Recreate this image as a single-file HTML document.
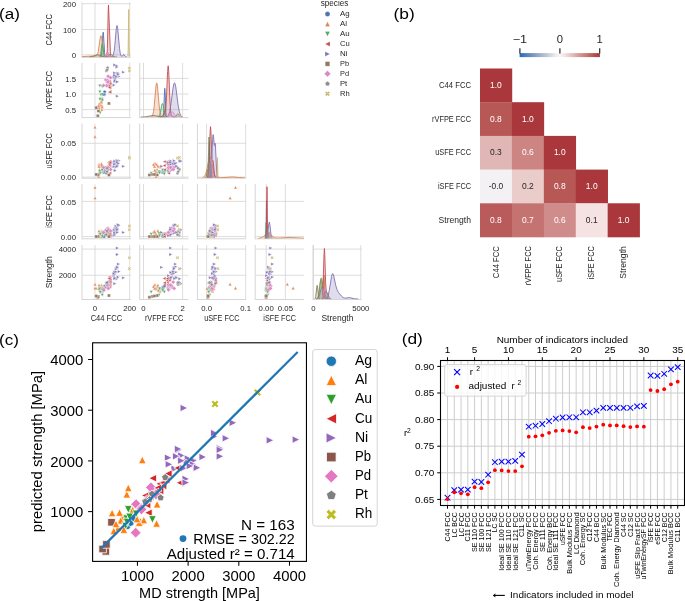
<!DOCTYPE html>
<html><head><meta charset="utf-8"><style>
html,body{margin:0;padding:0;background:#fff;width:685px;height:601px;overflow:hidden}
svg{display:block;font-family:"Liberation Sans", sans-serif;will-change:transform}
</style></head><body>
<svg width="685" height="601" viewBox="0 0 685 601">
<rect width="685" height="601" fill="#fff"/>
<g id="panel-a">
<text x="-1.00" y="18.70" font-size="14.56" text-anchor="start" fill="#000" textLength="20.87" lengthAdjust="spacingAndGlyphs">(a)</text>
<defs>
<clipPath id="ca00"><rect x="82.0" y="2.2" width="48.8" height="55.199999999999996"/></clipPath>
<clipPath id="ca10"><rect x="82.0" y="62.9" width="48.8" height="54.699999999999996"/></clipPath>
<clipPath id="ca11"><rect x="139.7" y="62.9" width="48.8" height="54.699999999999996"/></clipPath>
<clipPath id="ca20"><rect x="82.0" y="123.6" width="48.8" height="54.599999999999994"/></clipPath>
<clipPath id="ca21"><rect x="139.7" y="123.6" width="48.8" height="54.599999999999994"/></clipPath>
<clipPath id="ca22"><rect x="197.4" y="123.6" width="48.8" height="54.599999999999994"/></clipPath>
<clipPath id="ca30"><rect x="82.0" y="184.1" width="48.8" height="54.70000000000002"/></clipPath>
<clipPath id="ca31"><rect x="139.7" y="184.1" width="48.8" height="54.70000000000002"/></clipPath>
<clipPath id="ca32"><rect x="197.4" y="184.1" width="48.8" height="54.70000000000002"/></clipPath>
<clipPath id="ca33"><rect x="255.2" y="184.1" width="48.8" height="54.70000000000002"/></clipPath>
<clipPath id="ca40"><rect x="82.0" y="245.0" width="48.8" height="54.5"/></clipPath>
<clipPath id="ca41"><rect x="139.7" y="245.0" width="48.8" height="54.5"/></clipPath>
<clipPath id="ca42"><rect x="197.4" y="245.0" width="48.8" height="54.5"/></clipPath>
<clipPath id="ca43"><rect x="255.2" y="245.0" width="48.8" height="54.5"/></clipPath>
<clipPath id="ca44"><rect x="313.0" y="245.0" width="48.8" height="54.5"/></clipPath>
</defs>
<line x1="95.00" y1="2.20" x2="95.00" y2="57.40" stroke="#d4d4d4" stroke-width="0.8"/>
<line x1="129.70" y1="2.20" x2="129.70" y2="57.40" stroke="#d4d4d4" stroke-width="0.8"/>
<line x1="82.00" y1="3.70" x2="130.80" y2="3.70" stroke="#d4d4d4" stroke-width="0.8"/>
<line x1="82.00" y1="29.50" x2="130.80" y2="29.50" stroke="#d4d4d4" stroke-width="0.8"/>
<line x1="82.00" y1="54.80" x2="130.80" y2="54.80" stroke="#d4d4d4" stroke-width="0.8"/>
<line x1="82.00" y1="2.20" x2="82.00" y2="57.90" stroke="#d6d6d6" stroke-width="1.0"/>
<line x1="82.00" y1="57.40" x2="130.80" y2="57.40" stroke="#d6d6d6" stroke-width="1.0"/>
<line x1="95.00" y1="62.90" x2="95.00" y2="117.60" stroke="#d4d4d4" stroke-width="0.8"/>
<line x1="129.70" y1="62.90" x2="129.70" y2="117.60" stroke="#d4d4d4" stroke-width="0.8"/>
<line x1="82.00" y1="78.40" x2="130.80" y2="78.40" stroke="#d4d4d4" stroke-width="0.8"/>
<line x1="82.00" y1="94.00" x2="130.80" y2="94.00" stroke="#d4d4d4" stroke-width="0.8"/>
<line x1="82.00" y1="109.60" x2="130.80" y2="109.60" stroke="#d4d4d4" stroke-width="0.8"/>
<line x1="82.00" y1="62.90" x2="82.00" y2="118.10" stroke="#d6d6d6" stroke-width="1.0"/>
<line x1="82.00" y1="117.60" x2="130.80" y2="117.60" stroke="#d6d6d6" stroke-width="1.0"/>
<line x1="143.50" y1="62.90" x2="143.50" y2="117.60" stroke="#d4d4d4" stroke-width="0.8"/>
<line x1="182.60" y1="62.90" x2="182.60" y2="117.60" stroke="#d4d4d4" stroke-width="0.8"/>
<line x1="139.70" y1="78.40" x2="188.50" y2="78.40" stroke="#d4d4d4" stroke-width="0.8"/>
<line x1="139.70" y1="94.00" x2="188.50" y2="94.00" stroke="#d4d4d4" stroke-width="0.8"/>
<line x1="139.70" y1="109.60" x2="188.50" y2="109.60" stroke="#d4d4d4" stroke-width="0.8"/>
<line x1="139.70" y1="62.90" x2="139.70" y2="118.10" stroke="#d6d6d6" stroke-width="1.0"/>
<line x1="139.70" y1="117.60" x2="188.50" y2="117.60" stroke="#d6d6d6" stroke-width="1.0"/>
<line x1="95.00" y1="123.60" x2="95.00" y2="178.20" stroke="#d4d4d4" stroke-width="0.8"/>
<line x1="129.70" y1="123.60" x2="129.70" y2="178.20" stroke="#d4d4d4" stroke-width="0.8"/>
<line x1="82.00" y1="143.30" x2="130.80" y2="143.30" stroke="#d4d4d4" stroke-width="0.8"/>
<line x1="82.00" y1="177.10" x2="130.80" y2="177.10" stroke="#d4d4d4" stroke-width="0.8"/>
<line x1="82.00" y1="123.60" x2="82.00" y2="178.70" stroke="#d6d6d6" stroke-width="1.0"/>
<line x1="82.00" y1="178.20" x2="130.80" y2="178.20" stroke="#d6d6d6" stroke-width="1.0"/>
<line x1="143.50" y1="123.60" x2="143.50" y2="178.20" stroke="#d4d4d4" stroke-width="0.8"/>
<line x1="182.60" y1="123.60" x2="182.60" y2="178.20" stroke="#d4d4d4" stroke-width="0.8"/>
<line x1="139.70" y1="143.30" x2="188.50" y2="143.30" stroke="#d4d4d4" stroke-width="0.8"/>
<line x1="139.70" y1="177.10" x2="188.50" y2="177.10" stroke="#d4d4d4" stroke-width="0.8"/>
<line x1="139.70" y1="123.60" x2="139.70" y2="178.70" stroke="#d6d6d6" stroke-width="1.0"/>
<line x1="139.70" y1="178.20" x2="188.50" y2="178.20" stroke="#d6d6d6" stroke-width="1.0"/>
<line x1="206.60" y1="123.60" x2="206.60" y2="178.20" stroke="#d4d4d4" stroke-width="0.8"/>
<line x1="245.70" y1="123.60" x2="245.70" y2="178.20" stroke="#d4d4d4" stroke-width="0.8"/>
<line x1="197.40" y1="143.30" x2="246.20" y2="143.30" stroke="#d4d4d4" stroke-width="0.8"/>
<line x1="197.40" y1="177.10" x2="246.20" y2="177.10" stroke="#d4d4d4" stroke-width="0.8"/>
<line x1="197.40" y1="123.60" x2="197.40" y2="178.70" stroke="#d6d6d6" stroke-width="1.0"/>
<line x1="197.40" y1="178.20" x2="246.20" y2="178.20" stroke="#d6d6d6" stroke-width="1.0"/>
<line x1="95.00" y1="184.10" x2="95.00" y2="238.80" stroke="#d4d4d4" stroke-width="0.8"/>
<line x1="129.70" y1="184.10" x2="129.70" y2="238.80" stroke="#d4d4d4" stroke-width="0.8"/>
<line x1="82.00" y1="201.40" x2="130.80" y2="201.40" stroke="#d4d4d4" stroke-width="0.8"/>
<line x1="82.00" y1="236.60" x2="130.80" y2="236.60" stroke="#d4d4d4" stroke-width="0.8"/>
<line x1="82.00" y1="184.10" x2="82.00" y2="239.30" stroke="#d6d6d6" stroke-width="1.0"/>
<line x1="82.00" y1="238.80" x2="130.80" y2="238.80" stroke="#d6d6d6" stroke-width="1.0"/>
<line x1="143.50" y1="184.10" x2="143.50" y2="238.80" stroke="#d4d4d4" stroke-width="0.8"/>
<line x1="182.60" y1="184.10" x2="182.60" y2="238.80" stroke="#d4d4d4" stroke-width="0.8"/>
<line x1="139.70" y1="201.40" x2="188.50" y2="201.40" stroke="#d4d4d4" stroke-width="0.8"/>
<line x1="139.70" y1="236.60" x2="188.50" y2="236.60" stroke="#d4d4d4" stroke-width="0.8"/>
<line x1="139.70" y1="184.10" x2="139.70" y2="239.30" stroke="#d6d6d6" stroke-width="1.0"/>
<line x1="139.70" y1="238.80" x2="188.50" y2="238.80" stroke="#d6d6d6" stroke-width="1.0"/>
<line x1="206.60" y1="184.10" x2="206.60" y2="238.80" stroke="#d4d4d4" stroke-width="0.8"/>
<line x1="245.70" y1="184.10" x2="245.70" y2="238.80" stroke="#d4d4d4" stroke-width="0.8"/>
<line x1="197.40" y1="201.40" x2="246.20" y2="201.40" stroke="#d4d4d4" stroke-width="0.8"/>
<line x1="197.40" y1="236.60" x2="246.20" y2="236.60" stroke="#d4d4d4" stroke-width="0.8"/>
<line x1="197.40" y1="184.10" x2="197.40" y2="239.30" stroke="#d6d6d6" stroke-width="1.0"/>
<line x1="197.40" y1="238.80" x2="246.20" y2="238.80" stroke="#d6d6d6" stroke-width="1.0"/>
<line x1="266.20" y1="184.10" x2="266.20" y2="238.80" stroke="#d4d4d4" stroke-width="0.8"/>
<line x1="285.40" y1="184.10" x2="285.40" y2="238.80" stroke="#d4d4d4" stroke-width="0.8"/>
<line x1="255.20" y1="201.40" x2="304.00" y2="201.40" stroke="#d4d4d4" stroke-width="0.8"/>
<line x1="255.20" y1="236.60" x2="304.00" y2="236.60" stroke="#d4d4d4" stroke-width="0.8"/>
<line x1="255.20" y1="184.10" x2="255.20" y2="239.30" stroke="#d6d6d6" stroke-width="1.0"/>
<line x1="255.20" y1="238.80" x2="304.00" y2="238.80" stroke="#d6d6d6" stroke-width="1.0"/>
<line x1="95.00" y1="245.00" x2="95.00" y2="299.50" stroke="#d4d4d4" stroke-width="0.8"/>
<line x1="129.70" y1="245.00" x2="129.70" y2="299.50" stroke="#d4d4d4" stroke-width="0.8"/>
<line x1="82.00" y1="249.10" x2="130.80" y2="249.10" stroke="#d4d4d4" stroke-width="0.8"/>
<line x1="82.00" y1="275.30" x2="130.80" y2="275.30" stroke="#d4d4d4" stroke-width="0.8"/>
<line x1="82.00" y1="245.00" x2="82.00" y2="300.00" stroke="#d6d6d6" stroke-width="1.0"/>
<line x1="82.00" y1="299.50" x2="130.80" y2="299.50" stroke="#d6d6d6" stroke-width="1.0"/>
<line x1="143.50" y1="245.00" x2="143.50" y2="299.50" stroke="#d4d4d4" stroke-width="0.8"/>
<line x1="182.60" y1="245.00" x2="182.60" y2="299.50" stroke="#d4d4d4" stroke-width="0.8"/>
<line x1="139.70" y1="249.10" x2="188.50" y2="249.10" stroke="#d4d4d4" stroke-width="0.8"/>
<line x1="139.70" y1="275.30" x2="188.50" y2="275.30" stroke="#d4d4d4" stroke-width="0.8"/>
<line x1="139.70" y1="245.00" x2="139.70" y2="300.00" stroke="#d6d6d6" stroke-width="1.0"/>
<line x1="139.70" y1="299.50" x2="188.50" y2="299.50" stroke="#d6d6d6" stroke-width="1.0"/>
<line x1="206.60" y1="245.00" x2="206.60" y2="299.50" stroke="#d4d4d4" stroke-width="0.8"/>
<line x1="245.70" y1="245.00" x2="245.70" y2="299.50" stroke="#d4d4d4" stroke-width="0.8"/>
<line x1="197.40" y1="249.10" x2="246.20" y2="249.10" stroke="#d4d4d4" stroke-width="0.8"/>
<line x1="197.40" y1="275.30" x2="246.20" y2="275.30" stroke="#d4d4d4" stroke-width="0.8"/>
<line x1="197.40" y1="245.00" x2="197.40" y2="300.00" stroke="#d6d6d6" stroke-width="1.0"/>
<line x1="197.40" y1="299.50" x2="246.20" y2="299.50" stroke="#d6d6d6" stroke-width="1.0"/>
<line x1="266.20" y1="245.00" x2="266.20" y2="299.50" stroke="#d4d4d4" stroke-width="0.8"/>
<line x1="285.40" y1="245.00" x2="285.40" y2="299.50" stroke="#d4d4d4" stroke-width="0.8"/>
<line x1="255.20" y1="249.10" x2="304.00" y2="249.10" stroke="#d4d4d4" stroke-width="0.8"/>
<line x1="255.20" y1="275.30" x2="304.00" y2="275.30" stroke="#d4d4d4" stroke-width="0.8"/>
<line x1="255.20" y1="245.00" x2="255.20" y2="300.00" stroke="#d6d6d6" stroke-width="1.0"/>
<line x1="255.20" y1="299.50" x2="304.00" y2="299.50" stroke="#d6d6d6" stroke-width="1.0"/>
<line x1="313.50" y1="245.00" x2="313.50" y2="299.50" stroke="#d4d4d4" stroke-width="0.8"/>
<line x1="360.80" y1="245.00" x2="360.80" y2="299.50" stroke="#d4d4d4" stroke-width="0.8"/>
<line x1="313.00" y1="249.10" x2="361.80" y2="249.10" stroke="#d4d4d4" stroke-width="0.8"/>
<line x1="313.00" y1="275.30" x2="361.80" y2="275.30" stroke="#d4d4d4" stroke-width="0.8"/>
<line x1="313.00" y1="245.00" x2="313.00" y2="300.00" stroke="#d6d6d6" stroke-width="1.0"/>
<line x1="313.00" y1="299.50" x2="361.80" y2="299.50" stroke="#d6d6d6" stroke-width="1.0"/>
<text x="76.00" y="6.80" font-size="7.48" text-anchor="end" fill="#262626" textLength="12.98" lengthAdjust="spacingAndGlyphs">200</text>
<text x="76.00" y="32.60" font-size="7.48" text-anchor="end" fill="#262626" textLength="12.98" lengthAdjust="spacingAndGlyphs">100</text>
<text x="76.00" y="57.90" font-size="7.48" text-anchor="end" fill="#262626" textLength="4.33" lengthAdjust="spacingAndGlyphs">0</text>
<text x="51.90" y="29.80" font-size="8.14" text-anchor="middle" fill="#262626" textLength="31.53" lengthAdjust="spacingAndGlyphs" transform="rotate(-90 51.90 29.80)">C44 FCC</text>
<text x="76.00" y="81.50" font-size="7.48" text-anchor="end" fill="#262626" textLength="10.81" lengthAdjust="spacingAndGlyphs">1.5</text>
<text x="76.00" y="97.10" font-size="7.48" text-anchor="end" fill="#262626" textLength="10.81" lengthAdjust="spacingAndGlyphs">1.0</text>
<text x="76.00" y="112.70" font-size="7.48" text-anchor="end" fill="#262626" textLength="10.81" lengthAdjust="spacingAndGlyphs">0.5</text>
<text x="51.90" y="90.25" font-size="8.14" text-anchor="middle" fill="#262626" textLength="38.44" lengthAdjust="spacingAndGlyphs" transform="rotate(-90 51.90 90.25)">rVFPE FCC</text>
<text x="76.00" y="146.40" font-size="7.48" text-anchor="end" fill="#262626" textLength="15.14" lengthAdjust="spacingAndGlyphs">0.05</text>
<text x="76.00" y="180.20" font-size="7.48" text-anchor="end" fill="#262626" textLength="15.14" lengthAdjust="spacingAndGlyphs">0.00</text>
<text x="51.90" y="150.90" font-size="8.14" text-anchor="middle" fill="#262626" textLength="35.26" lengthAdjust="spacingAndGlyphs" transform="rotate(-90 51.90 150.90)">uSFE FCC</text>
<text x="76.00" y="204.50" font-size="7.48" text-anchor="end" fill="#262626" textLength="15.14" lengthAdjust="spacingAndGlyphs">0.05</text>
<text x="76.00" y="239.70" font-size="7.48" text-anchor="end" fill="#262626" textLength="15.14" lengthAdjust="spacingAndGlyphs">0.00</text>
<text x="51.90" y="211.45" font-size="8.14" text-anchor="middle" fill="#262626" textLength="32.63" lengthAdjust="spacingAndGlyphs" transform="rotate(-90 51.90 211.45)">iSFE FCC</text>
<text x="76.00" y="252.20" font-size="7.48" text-anchor="end" fill="#262626" textLength="17.31" lengthAdjust="spacingAndGlyphs">4000</text>
<text x="76.00" y="278.40" font-size="7.48" text-anchor="end" fill="#262626" textLength="17.31" lengthAdjust="spacingAndGlyphs">2000</text>
<text x="51.90" y="272.25" font-size="8.14" text-anchor="middle" fill="#262626" textLength="32.01" lengthAdjust="spacingAndGlyphs" transform="rotate(-90 51.90 272.25)">Strength</text>
<text x="95.00" y="311.20" font-size="7.48" text-anchor="middle" fill="#262626" textLength="4.33" lengthAdjust="spacingAndGlyphs">0</text>
<text x="129.70" y="311.20" font-size="7.48" text-anchor="middle" fill="#262626" textLength="12.98" lengthAdjust="spacingAndGlyphs">200</text>
<text x="106.40" y="320.60" font-size="8.14" text-anchor="middle" fill="#262626" textLength="31.53" lengthAdjust="spacingAndGlyphs">C44 FCC</text>
<text x="143.50" y="311.20" font-size="7.48" text-anchor="middle" fill="#262626" textLength="4.33" lengthAdjust="spacingAndGlyphs">0</text>
<text x="182.60" y="311.20" font-size="7.48" text-anchor="middle" fill="#262626" textLength="4.33" lengthAdjust="spacingAndGlyphs">2</text>
<text x="164.10" y="320.60" font-size="8.14" text-anchor="middle" fill="#262626" textLength="38.44" lengthAdjust="spacingAndGlyphs">rVFPE FCC</text>
<text x="206.60" y="311.20" font-size="7.48" text-anchor="middle" fill="#262626" textLength="10.81" lengthAdjust="spacingAndGlyphs">0.0</text>
<text x="245.70" y="311.20" font-size="7.48" text-anchor="middle" fill="#262626" textLength="10.81" lengthAdjust="spacingAndGlyphs">0.1</text>
<text x="221.80" y="320.60" font-size="8.14" text-anchor="middle" fill="#262626" textLength="35.26" lengthAdjust="spacingAndGlyphs">uSFE FCC</text>
<text x="266.20" y="311.20" font-size="7.48" text-anchor="middle" fill="#262626" textLength="15.14" lengthAdjust="spacingAndGlyphs">0.00</text>
<text x="285.40" y="311.20" font-size="7.48" text-anchor="middle" fill="#262626" textLength="15.14" lengthAdjust="spacingAndGlyphs">0.05</text>
<text x="279.60" y="320.60" font-size="8.14" text-anchor="middle" fill="#262626" textLength="32.63" lengthAdjust="spacingAndGlyphs">iSFE FCC</text>
<text x="313.50" y="311.20" font-size="7.48" text-anchor="middle" fill="#262626" textLength="4.33" lengthAdjust="spacingAndGlyphs">0</text>
<text x="360.80" y="311.20" font-size="7.48" text-anchor="middle" fill="#262626" textLength="17.31" lengthAdjust="spacingAndGlyphs">5000</text>
<text x="337.40" y="320.60" font-size="8.14" text-anchor="middle" fill="#262626" textLength="32.01" lengthAdjust="spacingAndGlyphs">Strength</text>
<defs>
<g id="maAg"><circle cx="0.00" cy="0.00" r="1.65" fill="#4c72b0" stroke="#fff" stroke-width="0.4"/></g>
<g id="maAl"><polygon points="0.00,-1.65 1.65,1.65 -1.65,1.65" fill="#dd8452" stroke="#fff" stroke-width="0.4"/></g>
<g id="maAu"><polygon points="0.00,1.65 1.65,-1.65 -1.65,-1.65" fill="#55a868" stroke="#fff" stroke-width="0.4"/></g>
<g id="maCu"><polygon points="-1.65,0.00 1.65,-1.65 1.65,1.65" fill="#c44e52" stroke="#fff" stroke-width="0.4"/></g>
<g id="maNi"><polygon points="1.65,0.00 -1.65,-1.65 -1.65,1.65" fill="#8172b3" stroke="#fff" stroke-width="0.4"/></g>
<g id="maPb"><polygon points="-1.50,-1.50 1.50,-1.50 1.50,1.50 -1.50,1.50" fill="#937860" stroke="#fff" stroke-width="0.4"/></g>
<g id="maPd"><polygon points="0.00,-2.12 2.12,0.00 0.00,2.12 -2.12,0.00" fill="#da8bc3" stroke="#fff" stroke-width="0.4"/></g>
<g id="maPt"><polygon points="0.00,-1.65 1.57,-0.51 0.97,1.33 -0.97,1.33 -1.57,-0.51" fill="#8c8c8c" stroke="#fff" stroke-width="0.4"/></g>
<g id="maRh"><polygon points="-0.82,-1.65 0.00,-0.82 0.82,-1.65 1.65,-0.82 0.82,0.00 1.65,0.82 0.82,1.65 0.00,0.82 -0.82,1.65 -1.65,0.82 -0.82,0.00 -1.65,-0.82" fill="#ccb974" stroke="#fff" stroke-width="0.4"/></g>
</defs>
<g clip-path="url(#ca10)">
<use href="#maAg" x="104.3" y="94.5"/>
<use href="#maAg" x="104.6" y="91.8"/>
<use href="#maAg" x="104.0" y="94.5"/>
<use href="#maAg" x="103.5" y="94.2"/>
<use href="#maAl" x="101.4" y="106.6"/>
<use href="#maAl" x="99.4" y="107.1"/>
<use href="#maAl" x="99.3" y="107.4"/>
<use href="#maAl" x="99.1" y="104.0"/>
<use href="#maAl" x="99.6" y="103.4"/>
<use href="#maAl" x="102.3" y="99.0"/>
<use href="#maAl" x="100.4" y="105.4"/>
<use href="#maAl" x="99.0" y="107.6"/>
<use href="#maAl" x="96.4" y="106.9"/>
<use href="#maAl" x="101.6" y="102.2"/>
<use href="#maAl" x="101.7" y="109.3"/>
<use href="#maAl" x="98.7" y="105.4"/>
<use href="#maAl" x="101.9" y="105.3"/>
<use href="#maAl" x="102.2" y="106.9"/>
<use href="#maAl" x="101.3" y="101.5"/>
<use href="#maAu" x="99.9" y="92.0"/>
<use href="#maAu" x="101.0" y="95.0"/>
<use href="#maAu" x="101.8" y="99.2"/>
<use href="#maAu" x="102.3" y="86.7"/>
<use href="#maAu" x="102.3" y="100.4"/>
<use href="#maAu" x="100.0" y="99.5"/>
<use href="#maAu" x="99.8" y="85.8"/>
<use href="#maAu" x="100.2" y="112.9"/>
<use href="#maAu" x="102.3" y="94.6"/>
<use href="#maCu" x="109.7" y="85.2"/>
<use href="#maCu" x="108.7" y="86.3"/>
<use href="#maCu" x="109.7" y="86.9"/>
<use href="#maCu" x="109.5" y="81.4"/>
<use href="#maCu" x="109.9" y="91.7"/>
<use href="#maCu" x="108.2" y="85.7"/>
<use href="#maCu" x="108.7" y="85.6"/>
<use href="#maCu" x="109.6" y="91.9"/>
<use href="#maCu" x="109.8" y="83.0"/>
<use href="#maCu" x="109.7" y="87.8"/>
<use href="#maCu" x="109.7" y="92.2"/>
<use href="#maCu" x="109.1" y="87.3"/>
<use href="#maCu" x="110.0" y="83.7"/>
<use href="#maNi" x="114.0" y="85.1"/>
<use href="#maNi" x="116.0" y="76.4"/>
<use href="#maNi" x="117.5" y="73.4"/>
<use href="#maNi" x="114.6" y="73.0"/>
<use href="#maNi" x="115.0" y="79.5"/>
<use href="#maNi" x="114.8" y="81.5"/>
<use href="#maNi" x="115.2" y="80.9"/>
<use href="#maNi" x="114.0" y="77.0"/>
<use href="#maNi" x="116.9" y="67.2"/>
<use href="#maNi" x="118.1" y="73.1"/>
<use href="#maNi" x="119.1" y="76.4"/>
<use href="#maNi" x="117.5" y="76.2"/>
<use href="#maNi" x="115.9" y="77.8"/>
<use href="#maNi" x="114.8" y="65.0"/>
<use href="#maNi" x="117.0" y="65.9"/>
<use href="#maNi" x="116.2" y="76.3"/>
<use href="#maNi" x="114.7" y="75.3"/>
<use href="#maNi" x="118.5" y="74.2"/>
<use href="#maPb" x="98.4" y="111.0"/>
<use href="#maPd" x="108.1" y="83.0"/>
<use href="#maPd" x="108.1" y="80.9"/>
<use href="#maPd" x="107.1" y="82.1"/>
<use href="#maPd" x="105.8" y="79.9"/>
<use href="#maPd" x="106.6" y="85.6"/>
<use href="#maPd" x="103.6" y="85.3"/>
<use href="#maPd" x="107.7" y="80.6"/>
<use href="#maPd" x="108.2" y="76.3"/>
<use href="#maPd" x="108.3" y="81.9"/>
<use href="#maPd" x="110.5" y="77.7"/>
<use href="#maPt" x="107.3" y="68.2"/>
<use href="#maPt" x="107.6" y="67.8"/>
<use href="#maPt" x="107.0" y="70.3"/>
<use href="#maPt" x="106.3" y="70.9"/>
<use href="#maPt" x="107.1" y="69.9"/>
<use href="#maPb" x="108.9" y="103.4"/>
<use href="#maNi" x="117.4" y="96.2"/>
<use href="#maNi" x="117.4" y="81.8"/>
<use href="#maNi" x="117.4" y="81.8"/>
<use href="#maNi" x="123.5" y="72.2"/>
<use href="#maRh" x="129.5" y="70.9"/>
<use href="#maRh" x="129.4" y="68.1"/>
<use href="#maPb" x="97.8" y="115.8"/>
<use href="#maPb" x="96.2" y="107.7"/>
</g>
<g clip-path="url(#ca20)">
<use href="#maAg" x="104.3" y="172.2"/>
<use href="#maAg" x="104.6" y="170.7"/>
<use href="#maAg" x="104.0" y="172.1"/>
<use href="#maAg" x="103.5" y="172.3"/>
<use href="#maAl" x="101.4" y="163.3"/>
<use href="#maAl" x="99.4" y="170.3"/>
<use href="#maAl" x="99.3" y="166.0"/>
<use href="#maAl" x="99.1" y="164.4"/>
<use href="#maAl" x="99.6" y="169.3"/>
<use href="#maAl" x="102.3" y="166.9"/>
<use href="#maAl" x="100.4" y="171.9"/>
<use href="#maAl" x="99.0" y="166.3"/>
<use href="#maAl" x="96.4" y="174.1"/>
<use href="#maAl" x="101.6" y="166.0"/>
<use href="#maAl" x="101.7" y="164.3"/>
<use href="#maAl" x="98.7" y="176.4"/>
<use href="#maAl" x="101.9" y="171.4"/>
<use href="#maAl" x="102.2" y="170.1"/>
<use href="#maAl" x="101.3" y="171.7"/>
<use href="#maAu" x="99.9" y="174.0"/>
<use href="#maAu" x="101.0" y="171.7"/>
<use href="#maAu" x="101.8" y="171.8"/>
<use href="#maAu" x="102.3" y="171.3"/>
<use href="#maAu" x="102.3" y="171.8"/>
<use href="#maAu" x="100.0" y="172.9"/>
<use href="#maAu" x="99.8" y="171.6"/>
<use href="#maAu" x="100.2" y="173.3"/>
<use href="#maAu" x="102.3" y="170.2"/>
<use href="#maCu" x="109.7" y="173.2"/>
<use href="#maCu" x="108.7" y="162.6"/>
<use href="#maCu" x="109.7" y="161.6"/>
<use href="#maCu" x="109.5" y="163.6"/>
<use href="#maCu" x="109.9" y="169.7"/>
<use href="#maCu" x="108.2" y="165.7"/>
<use href="#maCu" x="108.7" y="162.4"/>
<use href="#maCu" x="109.6" y="161.7"/>
<use href="#maCu" x="109.8" y="168.3"/>
<use href="#maCu" x="109.7" y="162.1"/>
<use href="#maCu" x="109.7" y="165.5"/>
<use href="#maCu" x="109.1" y="163.9"/>
<use href="#maCu" x="110.0" y="162.5"/>
<use href="#maNi" x="114.0" y="162.6"/>
<use href="#maNi" x="116.0" y="162.6"/>
<use href="#maNi" x="117.5" y="165.3"/>
<use href="#maNi" x="114.6" y="163.0"/>
<use href="#maNi" x="115.0" y="164.2"/>
<use href="#maNi" x="114.8" y="164.3"/>
<use href="#maNi" x="115.2" y="170.5"/>
<use href="#maNi" x="114.0" y="166.7"/>
<use href="#maNi" x="116.9" y="160.5"/>
<use href="#maNi" x="118.1" y="162.9"/>
<use href="#maNi" x="119.1" y="160.7"/>
<use href="#maNi" x="117.5" y="162.4"/>
<use href="#maNi" x="115.9" y="163.8"/>
<use href="#maNi" x="114.8" y="161.2"/>
<use href="#maNi" x="117.0" y="161.1"/>
<use href="#maNi" x="116.2" y="167.0"/>
<use href="#maNi" x="114.7" y="164.2"/>
<use href="#maNi" x="118.5" y="163.6"/>
<use href="#maPb" x="98.4" y="174.4"/>
<use href="#maPd" x="108.1" y="169.2"/>
<use href="#maPd" x="108.1" y="167.3"/>
<use href="#maPd" x="107.1" y="169.2"/>
<use href="#maPd" x="105.8" y="167.5"/>
<use href="#maPd" x="106.6" y="168.6"/>
<use href="#maPd" x="103.6" y="167.4"/>
<use href="#maPd" x="107.7" y="169.3"/>
<use href="#maPd" x="108.2" y="167.5"/>
<use href="#maPd" x="108.3" y="167.5"/>
<use href="#maPd" x="110.5" y="169.5"/>
<use href="#maPt" x="107.3" y="170.0"/>
<use href="#maPt" x="107.6" y="169.3"/>
<use href="#maPt" x="107.0" y="168.2"/>
<use href="#maPt" x="106.3" y="173.3"/>
<use href="#maPt" x="107.1" y="171.7"/>
<use href="#maAl" x="95.0" y="127.1"/>
<use href="#maAl" x="95.0" y="136.5"/>
<use href="#maPb" x="108.9" y="175.1"/>
<use href="#maNi" x="117.4" y="166.3"/>
<use href="#maNi" x="117.4" y="160.9"/>
<use href="#maNi" x="117.4" y="162.2"/>
<use href="#maNi" x="123.5" y="166.3"/>
<use href="#maRh" x="129.5" y="158.2"/>
<use href="#maRh" x="129.4" y="157.5"/>
<use href="#maPb" x="97.8" y="175.1"/>
<use href="#maPb" x="96.2" y="174.4"/>
</g>
<g clip-path="url(#ca21)">
<use href="#maAg" x="162.7" y="172.2"/>
<use href="#maAg" x="164.4" y="170.7"/>
<use href="#maAg" x="162.8" y="172.1"/>
<use href="#maAg" x="162.9" y="172.3"/>
<use href="#maAl" x="155.1" y="163.3"/>
<use href="#maAl" x="154.8" y="170.3"/>
<use href="#maAl" x="154.6" y="166.0"/>
<use href="#maAl" x="156.8" y="164.4"/>
<use href="#maAl" x="157.1" y="169.3"/>
<use href="#maAl" x="159.9" y="166.9"/>
<use href="#maAl" x="155.9" y="171.9"/>
<use href="#maAl" x="154.5" y="166.3"/>
<use href="#maAl" x="155.0" y="174.1"/>
<use href="#maAl" x="157.9" y="166.0"/>
<use href="#maAl" x="153.5" y="164.3"/>
<use href="#maAl" x="155.9" y="176.4"/>
<use href="#maAl" x="156.0" y="171.4"/>
<use href="#maAl" x="154.9" y="170.1"/>
<use href="#maAl" x="158.3" y="171.7"/>
<use href="#maAu" x="164.3" y="174.0"/>
<use href="#maAu" x="162.4" y="171.7"/>
<use href="#maAu" x="159.8" y="171.8"/>
<use href="#maAu" x="167.6" y="171.3"/>
<use href="#maAu" x="159.0" y="171.8"/>
<use href="#maAu" x="159.6" y="172.9"/>
<use href="#maAu" x="168.2" y="171.6"/>
<use href="#maAu" x="151.2" y="173.3"/>
<use href="#maAu" x="162.7" y="170.2"/>
<use href="#maCu" x="168.6" y="173.2"/>
<use href="#maCu" x="167.9" y="162.6"/>
<use href="#maCu" x="167.5" y="161.6"/>
<use href="#maCu" x="171.0" y="163.6"/>
<use href="#maCu" x="164.5" y="169.7"/>
<use href="#maCu" x="168.3" y="165.7"/>
<use href="#maCu" x="168.3" y="162.4"/>
<use href="#maCu" x="164.4" y="161.7"/>
<use href="#maCu" x="169.9" y="168.3"/>
<use href="#maCu" x="166.9" y="162.1"/>
<use href="#maCu" x="164.2" y="165.5"/>
<use href="#maCu" x="167.2" y="163.9"/>
<use href="#maCu" x="169.5" y="162.5"/>
<use href="#maNi" x="168.6" y="162.6"/>
<use href="#maNi" x="174.1" y="162.6"/>
<use href="#maNi" x="175.9" y="165.3"/>
<use href="#maNi" x="176.2" y="163.0"/>
<use href="#maNi" x="172.1" y="164.2"/>
<use href="#maNi" x="170.9" y="164.3"/>
<use href="#maNi" x="171.3" y="170.5"/>
<use href="#maNi" x="173.7" y="166.7"/>
<use href="#maNi" x="179.8" y="160.5"/>
<use href="#maNi" x="176.1" y="162.9"/>
<use href="#maNi" x="174.1" y="160.7"/>
<use href="#maNi" x="174.2" y="162.4"/>
<use href="#maNi" x="173.2" y="163.8"/>
<use href="#maNi" x="181.2" y="161.2"/>
<use href="#maNi" x="180.6" y="161.1"/>
<use href="#maNi" x="174.2" y="167.0"/>
<use href="#maNi" x="174.7" y="164.2"/>
<use href="#maNi" x="175.5" y="163.6"/>
<use href="#maPb" x="152.4" y="174.4"/>
<use href="#maPd" x="169.9" y="169.2"/>
<use href="#maPd" x="171.3" y="167.3"/>
<use href="#maPd" x="170.5" y="169.2"/>
<use href="#maPd" x="171.9" y="167.5"/>
<use href="#maPd" x="168.3" y="168.6"/>
<use href="#maPd" x="168.5" y="167.4"/>
<use href="#maPd" x="171.5" y="169.3"/>
<use href="#maPd" x="174.1" y="167.5"/>
<use href="#maPd" x="170.6" y="167.5"/>
<use href="#maPd" x="173.2" y="169.5"/>
<use href="#maPt" x="179.2" y="170.0"/>
<use href="#maPt" x="179.4" y="169.3"/>
<use href="#maPt" x="177.9" y="168.2"/>
<use href="#maPt" x="177.5" y="173.3"/>
<use href="#maPt" x="178.2" y="171.7"/>
<use href="#maPb" x="157.2" y="175.1"/>
<use href="#maNi" x="161.7" y="166.3"/>
<use href="#maNi" x="170.7" y="160.9"/>
<use href="#maNi" x="170.7" y="162.2"/>
<use href="#maNi" x="176.7" y="166.3"/>
<use href="#maRh" x="177.5" y="158.2"/>
<use href="#maRh" x="179.3" y="157.5"/>
<use href="#maPb" x="149.4" y="175.1"/>
<use href="#maPb" x="154.4" y="174.4"/>
</g>
<g clip-path="url(#ca30)">
<use href="#maAg" x="104.3" y="235.9"/>
<use href="#maAg" x="104.6" y="234.7"/>
<use href="#maAg" x="104.0" y="236.6"/>
<use href="#maAg" x="103.5" y="235.0"/>
<use href="#maAl" x="101.4" y="232.7"/>
<use href="#maAl" x="99.4" y="233.0"/>
<use href="#maAl" x="99.3" y="235.4"/>
<use href="#maAl" x="99.1" y="236.6"/>
<use href="#maAl" x="99.6" y="236.3"/>
<use href="#maAl" x="102.3" y="233.3"/>
<use href="#maAl" x="100.4" y="235.2"/>
<use href="#maAl" x="99.0" y="230.8"/>
<use href="#maAl" x="96.4" y="236.5"/>
<use href="#maAl" x="101.6" y="230.6"/>
<use href="#maAl" x="101.7" y="231.9"/>
<use href="#maAl" x="98.7" y="235.0"/>
<use href="#maAl" x="101.9" y="233.8"/>
<use href="#maAl" x="102.2" y="232.0"/>
<use href="#maAl" x="101.3" y="236.5"/>
<use href="#maAu" x="99.9" y="234.2"/>
<use href="#maAu" x="101.0" y="235.1"/>
<use href="#maAu" x="101.8" y="234.7"/>
<use href="#maAu" x="102.3" y="235.4"/>
<use href="#maAu" x="102.3" y="233.7"/>
<use href="#maAu" x="100.0" y="235.8"/>
<use href="#maAu" x="99.8" y="235.6"/>
<use href="#maAu" x="100.2" y="234.4"/>
<use href="#maAu" x="102.3" y="236.6"/>
<use href="#maCu" x="109.7" y="233.1"/>
<use href="#maCu" x="108.7" y="234.5"/>
<use href="#maCu" x="109.7" y="232.8"/>
<use href="#maCu" x="109.5" y="233.3"/>
<use href="#maCu" x="109.9" y="233.6"/>
<use href="#maCu" x="108.2" y="232.8"/>
<use href="#maCu" x="108.7" y="235.7"/>
<use href="#maCu" x="109.6" y="234.3"/>
<use href="#maCu" x="109.8" y="232.8"/>
<use href="#maCu" x="109.7" y="233.8"/>
<use href="#maCu" x="109.7" y="236.5"/>
<use href="#maCu" x="109.1" y="234.3"/>
<use href="#maCu" x="110.0" y="235.4"/>
<use href="#maNi" x="114.0" y="235.6"/>
<use href="#maNi" x="116.0" y="226.2"/>
<use href="#maNi" x="117.5" y="232.1"/>
<use href="#maNi" x="114.6" y="232.1"/>
<use href="#maNi" x="115.0" y="228.3"/>
<use href="#maNi" x="114.8" y="234.8"/>
<use href="#maNi" x="115.2" y="230.7"/>
<use href="#maNi" x="114.0" y="230.4"/>
<use href="#maNi" x="116.9" y="229.3"/>
<use href="#maNi" x="118.1" y="225.0"/>
<use href="#maNi" x="119.1" y="225.5"/>
<use href="#maNi" x="117.5" y="229.8"/>
<use href="#maNi" x="115.9" y="228.6"/>
<use href="#maNi" x="114.8" y="229.8"/>
<use href="#maNi" x="117.0" y="230.7"/>
<use href="#maNi" x="116.2" y="228.7"/>
<use href="#maNi" x="114.7" y="233.0"/>
<use href="#maNi" x="118.5" y="224.8"/>
<use href="#maPb" x="98.4" y="236.6"/>
<use href="#maPd" x="108.1" y="230.1"/>
<use href="#maPd" x="108.1" y="230.5"/>
<use href="#maPd" x="107.1" y="231.3"/>
<use href="#maPd" x="105.8" y="230.2"/>
<use href="#maPd" x="106.6" y="232.6"/>
<use href="#maPd" x="103.6" y="232.3"/>
<use href="#maPd" x="107.7" y="228.3"/>
<use href="#maPd" x="108.2" y="228.9"/>
<use href="#maPd" x="108.3" y="229.8"/>
<use href="#maPd" x="110.5" y="230.9"/>
<use href="#maPt" x="107.3" y="235.5"/>
<use href="#maPt" x="107.6" y="232.5"/>
<use href="#maPt" x="107.0" y="235.1"/>
<use href="#maPt" x="106.3" y="234.7"/>
<use href="#maPt" x="107.1" y="231.1"/>
<use href="#maAl" x="95.0" y="187.3"/>
<use href="#maAl" x="95.0" y="197.9"/>
<use href="#maPb" x="108.9" y="236.6"/>
<use href="#maNi" x="117.4" y="232.4"/>
<use href="#maNi" x="117.4" y="228.2"/>
<use href="#maNi" x="117.4" y="229.6"/>
<use href="#maNi" x="123.5" y="232.4"/>
<use href="#maRh" x="129.5" y="226.0"/>
<use href="#maRh" x="129.4" y="229.6"/>
<use href="#maPb" x="97.8" y="236.6"/>
<use href="#maPb" x="96.2" y="236.6"/>
</g>
<g clip-path="url(#ca31)">
<use href="#maAg" x="162.7" y="235.9"/>
<use href="#maAg" x="164.4" y="234.7"/>
<use href="#maAg" x="162.8" y="236.6"/>
<use href="#maAg" x="162.9" y="235.0"/>
<use href="#maAl" x="155.1" y="232.7"/>
<use href="#maAl" x="154.8" y="233.0"/>
<use href="#maAl" x="154.6" y="235.4"/>
<use href="#maAl" x="156.8" y="236.6"/>
<use href="#maAl" x="157.1" y="236.3"/>
<use href="#maAl" x="159.9" y="233.3"/>
<use href="#maAl" x="155.9" y="235.2"/>
<use href="#maAl" x="154.5" y="230.8"/>
<use href="#maAl" x="155.0" y="236.5"/>
<use href="#maAl" x="157.9" y="230.6"/>
<use href="#maAl" x="153.5" y="231.9"/>
<use href="#maAl" x="155.9" y="235.0"/>
<use href="#maAl" x="156.0" y="233.8"/>
<use href="#maAl" x="154.9" y="232.0"/>
<use href="#maAl" x="158.3" y="236.5"/>
<use href="#maAu" x="164.3" y="234.2"/>
<use href="#maAu" x="162.4" y="235.1"/>
<use href="#maAu" x="159.8" y="234.7"/>
<use href="#maAu" x="167.6" y="235.4"/>
<use href="#maAu" x="159.0" y="233.7"/>
<use href="#maAu" x="159.6" y="235.8"/>
<use href="#maAu" x="168.2" y="235.6"/>
<use href="#maAu" x="151.2" y="234.4"/>
<use href="#maAu" x="162.7" y="236.6"/>
<use href="#maCu" x="168.6" y="233.1"/>
<use href="#maCu" x="167.9" y="234.5"/>
<use href="#maCu" x="167.5" y="232.8"/>
<use href="#maCu" x="171.0" y="233.3"/>
<use href="#maCu" x="164.5" y="233.6"/>
<use href="#maCu" x="168.3" y="232.8"/>
<use href="#maCu" x="168.3" y="235.7"/>
<use href="#maCu" x="164.4" y="234.3"/>
<use href="#maCu" x="169.9" y="232.8"/>
<use href="#maCu" x="166.9" y="233.8"/>
<use href="#maCu" x="164.2" y="236.5"/>
<use href="#maCu" x="167.2" y="234.3"/>
<use href="#maCu" x="169.5" y="235.4"/>
<use href="#maNi" x="168.6" y="235.6"/>
<use href="#maNi" x="174.1" y="226.2"/>
<use href="#maNi" x="175.9" y="232.1"/>
<use href="#maNi" x="176.2" y="232.1"/>
<use href="#maNi" x="172.1" y="228.3"/>
<use href="#maNi" x="170.9" y="234.8"/>
<use href="#maNi" x="171.3" y="230.7"/>
<use href="#maNi" x="173.7" y="230.4"/>
<use href="#maNi" x="179.8" y="229.3"/>
<use href="#maNi" x="176.1" y="225.0"/>
<use href="#maNi" x="174.1" y="225.5"/>
<use href="#maNi" x="174.2" y="229.8"/>
<use href="#maNi" x="173.2" y="228.6"/>
<use href="#maNi" x="181.2" y="229.8"/>
<use href="#maNi" x="180.6" y="230.7"/>
<use href="#maNi" x="174.2" y="228.7"/>
<use href="#maNi" x="174.7" y="233.0"/>
<use href="#maNi" x="175.5" y="224.8"/>
<use href="#maPb" x="152.4" y="236.6"/>
<use href="#maPd" x="169.9" y="230.1"/>
<use href="#maPd" x="171.3" y="230.5"/>
<use href="#maPd" x="170.5" y="231.3"/>
<use href="#maPd" x="171.9" y="230.2"/>
<use href="#maPd" x="168.3" y="232.6"/>
<use href="#maPd" x="168.5" y="232.3"/>
<use href="#maPd" x="171.5" y="228.3"/>
<use href="#maPd" x="174.1" y="228.9"/>
<use href="#maPd" x="170.6" y="229.8"/>
<use href="#maPd" x="173.2" y="230.9"/>
<use href="#maPt" x="179.2" y="235.5"/>
<use href="#maPt" x="179.4" y="232.5"/>
<use href="#maPt" x="177.9" y="235.1"/>
<use href="#maPt" x="177.5" y="234.7"/>
<use href="#maPt" x="178.2" y="231.1"/>
<use href="#maPb" x="157.2" y="236.6"/>
<use href="#maNi" x="161.7" y="232.4"/>
<use href="#maNi" x="170.7" y="228.2"/>
<use href="#maNi" x="170.7" y="229.6"/>
<use href="#maNi" x="176.7" y="232.4"/>
<use href="#maRh" x="177.5" y="226.0"/>
<use href="#maRh" x="179.3" y="229.6"/>
<use href="#maPb" x="149.4" y="236.6"/>
<use href="#maPb" x="154.4" y="236.6"/>
</g>
<g clip-path="url(#ca32)">
<use href="#maAg" x="209.4" y="235.9"/>
<use href="#maAg" x="210.3" y="234.7"/>
<use href="#maAg" x="209.5" y="236.6"/>
<use href="#maAg" x="209.4" y="235.0"/>
<use href="#maAl" x="214.6" y="232.7"/>
<use href="#maAl" x="210.6" y="233.0"/>
<use href="#maAl" x="213.0" y="235.4"/>
<use href="#maAl" x="213.9" y="236.6"/>
<use href="#maAl" x="211.1" y="236.3"/>
<use href="#maAl" x="212.5" y="233.3"/>
<use href="#maAl" x="209.6" y="235.2"/>
<use href="#maAl" x="212.8" y="230.8"/>
<use href="#maAl" x="208.3" y="236.5"/>
<use href="#maAl" x="213.0" y="230.6"/>
<use href="#maAl" x="214.0" y="231.9"/>
<use href="#maAl" x="207.0" y="235.0"/>
<use href="#maAl" x="209.9" y="233.8"/>
<use href="#maAl" x="210.7" y="232.0"/>
<use href="#maAl" x="209.7" y="236.5"/>
<use href="#maAu" x="208.4" y="234.2"/>
<use href="#maAu" x="209.7" y="235.1"/>
<use href="#maAu" x="209.6" y="234.7"/>
<use href="#maAu" x="210.0" y="235.4"/>
<use href="#maAu" x="209.7" y="233.7"/>
<use href="#maAu" x="209.1" y="235.8"/>
<use href="#maAu" x="209.8" y="235.6"/>
<use href="#maAu" x="208.8" y="234.4"/>
<use href="#maAu" x="210.6" y="236.6"/>
<use href="#maCu" x="208.9" y="233.1"/>
<use href="#maCu" x="215.0" y="234.5"/>
<use href="#maCu" x="215.6" y="232.8"/>
<use href="#maCu" x="214.4" y="233.3"/>
<use href="#maCu" x="210.9" y="233.6"/>
<use href="#maCu" x="213.2" y="232.8"/>
<use href="#maCu" x="215.1" y="235.7"/>
<use href="#maCu" x="215.5" y="234.3"/>
<use href="#maCu" x="211.7" y="232.8"/>
<use href="#maCu" x="215.3" y="233.8"/>
<use href="#maCu" x="213.3" y="236.5"/>
<use href="#maCu" x="214.2" y="234.3"/>
<use href="#maCu" x="215.1" y="235.4"/>
<use href="#maNi" x="215.0" y="235.6"/>
<use href="#maNi" x="215.0" y="226.2"/>
<use href="#maNi" x="213.4" y="232.1"/>
<use href="#maNi" x="214.8" y="232.1"/>
<use href="#maNi" x="214.0" y="228.3"/>
<use href="#maNi" x="214.0" y="234.8"/>
<use href="#maNi" x="210.4" y="230.7"/>
<use href="#maNi" x="212.6" y="230.4"/>
<use href="#maNi" x="216.2" y="229.3"/>
<use href="#maNi" x="214.8" y="225.0"/>
<use href="#maNi" x="216.1" y="225.5"/>
<use href="#maNi" x="215.1" y="229.8"/>
<use href="#maNi" x="214.3" y="228.6"/>
<use href="#maNi" x="215.8" y="229.8"/>
<use href="#maNi" x="215.8" y="230.7"/>
<use href="#maNi" x="212.5" y="228.7"/>
<use href="#maNi" x="214.1" y="233.0"/>
<use href="#maNi" x="214.4" y="224.8"/>
<use href="#maPb" x="208.2" y="236.6"/>
<use href="#maPd" x="211.2" y="230.1"/>
<use href="#maPd" x="212.3" y="230.5"/>
<use href="#maPd" x="211.2" y="231.3"/>
<use href="#maPd" x="212.2" y="230.2"/>
<use href="#maPd" x="211.5" y="232.6"/>
<use href="#maPd" x="212.2" y="232.3"/>
<use href="#maPd" x="211.1" y="228.3"/>
<use href="#maPd" x="212.1" y="228.9"/>
<use href="#maPd" x="212.2" y="229.8"/>
<use href="#maPd" x="211.0" y="230.9"/>
<use href="#maPt" x="210.7" y="235.5"/>
<use href="#maPt" x="211.1" y="232.5"/>
<use href="#maPt" x="211.7" y="235.1"/>
<use href="#maPt" x="208.8" y="234.7"/>
<use href="#maPt" x="209.7" y="231.1"/>
<use href="#maAl" x="235.5" y="187.3"/>
<use href="#maAl" x="230.1" y="197.9"/>
<use href="#maPb" x="207.8" y="236.6"/>
<use href="#maNi" x="212.9" y="232.4"/>
<use href="#maNi" x="216.0" y="228.2"/>
<use href="#maNi" x="215.2" y="229.6"/>
<use href="#maNi" x="212.9" y="232.4"/>
<use href="#maRh" x="217.5" y="226.0"/>
<use href="#maRh" x="217.9" y="229.6"/>
<use href="#maPb" x="207.8" y="236.6"/>
<use href="#maPb" x="208.2" y="236.6"/>
</g>
<g clip-path="url(#ca40)">
<use href="#maAg" x="104.3" y="287.5"/>
<use href="#maAg" x="104.6" y="286.2"/>
<use href="#maAg" x="104.0" y="290.1"/>
<use href="#maAg" x="103.5" y="288.4"/>
<use href="#maAl" x="101.4" y="284.8"/>
<use href="#maAl" x="99.4" y="288.6"/>
<use href="#maAl" x="99.3" y="288.3"/>
<use href="#maAl" x="99.1" y="288.7"/>
<use href="#maAl" x="99.6" y="286.3"/>
<use href="#maAl" x="102.3" y="291.0"/>
<use href="#maAl" x="100.4" y="289.0"/>
<use href="#maAl" x="99.0" y="285.1"/>
<use href="#maAl" x="96.4" y="288.3"/>
<use href="#maAl" x="101.6" y="285.2"/>
<use href="#maAl" x="101.7" y="286.3"/>
<use href="#maAl" x="98.7" y="288.3"/>
<use href="#maAl" x="101.9" y="288.4"/>
<use href="#maAl" x="102.2" y="288.2"/>
<use href="#maAl" x="101.3" y="290.0"/>
<use href="#maAu" x="99.9" y="292.2"/>
<use href="#maAu" x="101.0" y="289.6"/>
<use href="#maAu" x="101.8" y="288.9"/>
<use href="#maAu" x="102.3" y="289.0"/>
<use href="#maAu" x="102.3" y="295.1"/>
<use href="#maAu" x="100.0" y="288.8"/>
<use href="#maAu" x="99.8" y="289.0"/>
<use href="#maAu" x="100.2" y="292.1"/>
<use href="#maAu" x="102.3" y="290.0"/>
<use href="#maCu" x="109.7" y="286.9"/>
<use href="#maCu" x="108.7" y="281.1"/>
<use href="#maCu" x="109.7" y="282.2"/>
<use href="#maCu" x="109.5" y="276.9"/>
<use href="#maCu" x="109.9" y="284.8"/>
<use href="#maCu" x="108.2" y="286.4"/>
<use href="#maCu" x="108.7" y="278.3"/>
<use href="#maCu" x="109.6" y="282.8"/>
<use href="#maCu" x="109.8" y="278.0"/>
<use href="#maCu" x="109.7" y="280.2"/>
<use href="#maCu" x="109.7" y="278.4"/>
<use href="#maCu" x="109.1" y="278.5"/>
<use href="#maCu" x="110.0" y="280.2"/>
<use href="#maNi" x="114.0" y="275.7"/>
<use href="#maNi" x="116.0" y="272.2"/>
<use href="#maNi" x="117.5" y="266.8"/>
<use href="#maNi" x="114.6" y="272.1"/>
<use href="#maNi" x="115.0" y="273.9"/>
<use href="#maNi" x="114.8" y="272.4"/>
<use href="#maNi" x="115.2" y="277.7"/>
<use href="#maNi" x="114.0" y="273.5"/>
<use href="#maNi" x="116.9" y="278.8"/>
<use href="#maNi" x="118.1" y="277.1"/>
<use href="#maNi" x="119.1" y="271.6"/>
<use href="#maNi" x="117.5" y="267.7"/>
<use href="#maNi" x="115.9" y="271.7"/>
<use href="#maNi" x="114.8" y="283.7"/>
<use href="#maNi" x="117.0" y="268.8"/>
<use href="#maNi" x="116.2" y="268.8"/>
<use href="#maNi" x="114.7" y="278.5"/>
<use href="#maNi" x="118.5" y="264.1"/>
<use href="#maPb" x="98.4" y="296.4"/>
<use href="#maPd" x="108.1" y="285.8"/>
<use href="#maPd" x="108.1" y="287.3"/>
<use href="#maPd" x="107.1" y="286.7"/>
<use href="#maPd" x="105.8" y="286.9"/>
<use href="#maPd" x="106.6" y="284.7"/>
<use href="#maPd" x="103.6" y="289.8"/>
<use href="#maPd" x="107.7" y="285.9"/>
<use href="#maPd" x="108.2" y="288.4"/>
<use href="#maPd" x="108.3" y="285.0"/>
<use href="#maPd" x="110.5" y="282.1"/>
<use href="#maPt" x="107.3" y="283.8"/>
<use href="#maPt" x="107.6" y="282.7"/>
<use href="#maPt" x="107.0" y="284.6"/>
<use href="#maPt" x="106.3" y="282.9"/>
<use href="#maPt" x="107.1" y="282.6"/>
<use href="#maAl" x="95.0" y="288.0"/>
<use href="#maAl" x="95.0" y="284.2"/>
<use href="#maPb" x="108.9" y="295.6"/>
<use href="#maNi" x="117.4" y="267.3"/>
<use href="#maNi" x="117.4" y="248.1"/>
<use href="#maNi" x="117.4" y="254.5"/>
<use href="#maNi" x="123.5" y="277.8"/>
<use href="#maRh" x="129.5" y="257.7"/>
<use href="#maRh" x="129.4" y="268.6"/>
<use href="#maPb" x="97.8" y="297.3"/>
<use href="#maPb" x="96.2" y="296.0"/>
</g>
<g clip-path="url(#ca41)">
<use href="#maAg" x="162.7" y="287.5"/>
<use href="#maAg" x="164.4" y="286.2"/>
<use href="#maAg" x="162.8" y="290.1"/>
<use href="#maAg" x="162.9" y="288.4"/>
<use href="#maAl" x="155.1" y="284.8"/>
<use href="#maAl" x="154.8" y="288.6"/>
<use href="#maAl" x="154.6" y="288.3"/>
<use href="#maAl" x="156.8" y="288.7"/>
<use href="#maAl" x="157.1" y="286.3"/>
<use href="#maAl" x="159.9" y="291.0"/>
<use href="#maAl" x="155.9" y="289.0"/>
<use href="#maAl" x="154.5" y="285.1"/>
<use href="#maAl" x="155.0" y="288.3"/>
<use href="#maAl" x="157.9" y="285.2"/>
<use href="#maAl" x="153.5" y="286.3"/>
<use href="#maAl" x="155.9" y="288.3"/>
<use href="#maAl" x="156.0" y="288.4"/>
<use href="#maAl" x="154.9" y="288.2"/>
<use href="#maAl" x="158.3" y="290.0"/>
<use href="#maAu" x="164.3" y="292.2"/>
<use href="#maAu" x="162.4" y="289.6"/>
<use href="#maAu" x="159.8" y="288.9"/>
<use href="#maAu" x="167.6" y="289.0"/>
<use href="#maAu" x="159.0" y="295.1"/>
<use href="#maAu" x="159.6" y="288.8"/>
<use href="#maAu" x="168.2" y="289.0"/>
<use href="#maAu" x="151.2" y="292.1"/>
<use href="#maAu" x="162.7" y="290.0"/>
<use href="#maCu" x="168.6" y="286.9"/>
<use href="#maCu" x="167.9" y="281.1"/>
<use href="#maCu" x="167.5" y="282.2"/>
<use href="#maCu" x="171.0" y="276.9"/>
<use href="#maCu" x="164.5" y="284.8"/>
<use href="#maCu" x="168.3" y="286.4"/>
<use href="#maCu" x="168.3" y="278.3"/>
<use href="#maCu" x="164.4" y="282.8"/>
<use href="#maCu" x="169.9" y="278.0"/>
<use href="#maCu" x="166.9" y="280.2"/>
<use href="#maCu" x="164.2" y="278.4"/>
<use href="#maCu" x="167.2" y="278.5"/>
<use href="#maCu" x="169.5" y="280.2"/>
<use href="#maNi" x="168.6" y="275.7"/>
<use href="#maNi" x="174.1" y="272.2"/>
<use href="#maNi" x="175.9" y="266.8"/>
<use href="#maNi" x="176.2" y="272.1"/>
<use href="#maNi" x="172.1" y="273.9"/>
<use href="#maNi" x="170.9" y="272.4"/>
<use href="#maNi" x="171.3" y="277.7"/>
<use href="#maNi" x="173.7" y="273.5"/>
<use href="#maNi" x="179.8" y="278.8"/>
<use href="#maNi" x="176.1" y="277.1"/>
<use href="#maNi" x="174.1" y="271.6"/>
<use href="#maNi" x="174.2" y="267.7"/>
<use href="#maNi" x="173.2" y="271.7"/>
<use href="#maNi" x="181.2" y="283.7"/>
<use href="#maNi" x="180.6" y="268.8"/>
<use href="#maNi" x="174.2" y="268.8"/>
<use href="#maNi" x="174.7" y="278.5"/>
<use href="#maNi" x="175.5" y="264.1"/>
<use href="#maPb" x="152.4" y="296.4"/>
<use href="#maPd" x="169.9" y="285.8"/>
<use href="#maPd" x="171.3" y="287.3"/>
<use href="#maPd" x="170.5" y="286.7"/>
<use href="#maPd" x="171.9" y="286.9"/>
<use href="#maPd" x="168.3" y="284.7"/>
<use href="#maPd" x="168.5" y="289.8"/>
<use href="#maPd" x="171.5" y="285.9"/>
<use href="#maPd" x="174.1" y="288.4"/>
<use href="#maPd" x="170.6" y="285.0"/>
<use href="#maPd" x="173.2" y="282.1"/>
<use href="#maPt" x="179.2" y="283.8"/>
<use href="#maPt" x="179.4" y="282.7"/>
<use href="#maPt" x="177.9" y="284.6"/>
<use href="#maPt" x="177.5" y="282.9"/>
<use href="#maPt" x="178.2" y="282.6"/>
<use href="#maPb" x="157.2" y="295.6"/>
<use href="#maNi" x="161.7" y="267.3"/>
<use href="#maNi" x="170.7" y="248.1"/>
<use href="#maNi" x="170.7" y="254.5"/>
<use href="#maNi" x="176.7" y="277.8"/>
<use href="#maRh" x="177.5" y="257.7"/>
<use href="#maRh" x="179.3" y="268.6"/>
<use href="#maPb" x="149.4" y="297.3"/>
<use href="#maPb" x="154.4" y="296.0"/>
</g>
<g clip-path="url(#ca42)">
<use href="#maAg" x="209.4" y="287.5"/>
<use href="#maAg" x="210.3" y="286.2"/>
<use href="#maAg" x="209.5" y="290.1"/>
<use href="#maAg" x="209.4" y="288.4"/>
<use href="#maAl" x="214.6" y="284.8"/>
<use href="#maAl" x="210.6" y="288.6"/>
<use href="#maAl" x="213.0" y="288.3"/>
<use href="#maAl" x="213.9" y="288.7"/>
<use href="#maAl" x="211.1" y="286.3"/>
<use href="#maAl" x="212.5" y="291.0"/>
<use href="#maAl" x="209.6" y="289.0"/>
<use href="#maAl" x="212.8" y="285.1"/>
<use href="#maAl" x="208.3" y="288.3"/>
<use href="#maAl" x="213.0" y="285.2"/>
<use href="#maAl" x="214.0" y="286.3"/>
<use href="#maAl" x="207.0" y="288.3"/>
<use href="#maAl" x="209.9" y="288.4"/>
<use href="#maAl" x="210.7" y="288.2"/>
<use href="#maAl" x="209.7" y="290.0"/>
<use href="#maAu" x="208.4" y="292.2"/>
<use href="#maAu" x="209.7" y="289.6"/>
<use href="#maAu" x="209.6" y="288.9"/>
<use href="#maAu" x="210.0" y="289.0"/>
<use href="#maAu" x="209.7" y="295.1"/>
<use href="#maAu" x="209.1" y="288.8"/>
<use href="#maAu" x="209.8" y="289.0"/>
<use href="#maAu" x="208.8" y="292.1"/>
<use href="#maAu" x="210.6" y="290.0"/>
<use href="#maCu" x="208.9" y="286.9"/>
<use href="#maCu" x="215.0" y="281.1"/>
<use href="#maCu" x="215.6" y="282.2"/>
<use href="#maCu" x="214.4" y="276.9"/>
<use href="#maCu" x="210.9" y="284.8"/>
<use href="#maCu" x="213.2" y="286.4"/>
<use href="#maCu" x="215.1" y="278.3"/>
<use href="#maCu" x="215.5" y="282.8"/>
<use href="#maCu" x="211.7" y="278.0"/>
<use href="#maCu" x="215.3" y="280.2"/>
<use href="#maCu" x="213.3" y="278.4"/>
<use href="#maCu" x="214.2" y="278.5"/>
<use href="#maCu" x="215.1" y="280.2"/>
<use href="#maNi" x="215.0" y="275.7"/>
<use href="#maNi" x="215.0" y="272.2"/>
<use href="#maNi" x="213.4" y="266.8"/>
<use href="#maNi" x="214.8" y="272.1"/>
<use href="#maNi" x="214.0" y="273.9"/>
<use href="#maNi" x="214.0" y="272.4"/>
<use href="#maNi" x="210.4" y="277.7"/>
<use href="#maNi" x="212.6" y="273.5"/>
<use href="#maNi" x="216.2" y="278.8"/>
<use href="#maNi" x="214.8" y="277.1"/>
<use href="#maNi" x="216.1" y="271.6"/>
<use href="#maNi" x="215.1" y="267.7"/>
<use href="#maNi" x="214.3" y="271.7"/>
<use href="#maNi" x="215.8" y="283.7"/>
<use href="#maNi" x="215.8" y="268.8"/>
<use href="#maNi" x="212.5" y="268.8"/>
<use href="#maNi" x="214.1" y="278.5"/>
<use href="#maNi" x="214.4" y="264.1"/>
<use href="#maPb" x="208.2" y="296.4"/>
<use href="#maPd" x="211.2" y="285.8"/>
<use href="#maPd" x="212.3" y="287.3"/>
<use href="#maPd" x="211.2" y="286.7"/>
<use href="#maPd" x="212.2" y="286.9"/>
<use href="#maPd" x="211.5" y="284.7"/>
<use href="#maPd" x="212.2" y="289.8"/>
<use href="#maPd" x="211.1" y="285.9"/>
<use href="#maPd" x="212.1" y="288.4"/>
<use href="#maPd" x="212.2" y="285.0"/>
<use href="#maPd" x="211.0" y="282.1"/>
<use href="#maPt" x="210.7" y="283.8"/>
<use href="#maPt" x="211.1" y="282.7"/>
<use href="#maPt" x="211.7" y="284.6"/>
<use href="#maPt" x="208.8" y="282.9"/>
<use href="#maPt" x="209.7" y="282.6"/>
<use href="#maAl" x="235.5" y="288.0"/>
<use href="#maAl" x="230.1" y="284.2"/>
<use href="#maPb" x="207.8" y="295.6"/>
<use href="#maNi" x="212.9" y="267.3"/>
<use href="#maNi" x="216.0" y="248.1"/>
<use href="#maNi" x="215.2" y="254.5"/>
<use href="#maNi" x="212.9" y="277.8"/>
<use href="#maRh" x="217.5" y="257.7"/>
<use href="#maRh" x="217.9" y="268.6"/>
<use href="#maPb" x="207.8" y="297.3"/>
<use href="#maPb" x="208.2" y="296.0"/>
</g>
<g clip-path="url(#ca43)">
<use href="#maAg" x="266.6" y="287.5"/>
<use href="#maAg" x="267.2" y="286.2"/>
<use href="#maAg" x="266.2" y="290.1"/>
<use href="#maAg" x="267.1" y="288.4"/>
<use href="#maAl" x="268.3" y="284.8"/>
<use href="#maAl" x="268.2" y="288.6"/>
<use href="#maAl" x="266.9" y="288.3"/>
<use href="#maAl" x="266.2" y="288.7"/>
<use href="#maAl" x="266.3" y="286.3"/>
<use href="#maAl" x="268.0" y="291.0"/>
<use href="#maAl" x="267.0" y="289.0"/>
<use href="#maAl" x="269.4" y="285.1"/>
<use href="#maAl" x="266.2" y="288.3"/>
<use href="#maAl" x="269.5" y="285.2"/>
<use href="#maAl" x="268.7" y="286.3"/>
<use href="#maAl" x="267.1" y="288.3"/>
<use href="#maAl" x="267.7" y="288.4"/>
<use href="#maAl" x="268.7" y="288.2"/>
<use href="#maAl" x="266.2" y="290.0"/>
<use href="#maAu" x="267.5" y="292.2"/>
<use href="#maAu" x="267.0" y="289.6"/>
<use href="#maAu" x="267.2" y="288.9"/>
<use href="#maAu" x="266.9" y="289.0"/>
<use href="#maAu" x="267.8" y="295.1"/>
<use href="#maAu" x="266.6" y="288.8"/>
<use href="#maAu" x="266.8" y="289.0"/>
<use href="#maAu" x="267.4" y="292.1"/>
<use href="#maAu" x="266.2" y="290.0"/>
<use href="#maCu" x="268.1" y="286.9"/>
<use href="#maCu" x="267.4" y="281.1"/>
<use href="#maCu" x="268.3" y="282.2"/>
<use href="#maCu" x="268.0" y="276.9"/>
<use href="#maCu" x="267.9" y="284.8"/>
<use href="#maCu" x="268.3" y="286.4"/>
<use href="#maCu" x="266.7" y="278.3"/>
<use href="#maCu" x="267.5" y="282.8"/>
<use href="#maCu" x="268.3" y="278.0"/>
<use href="#maCu" x="267.7" y="280.2"/>
<use href="#maCu" x="266.2" y="278.4"/>
<use href="#maCu" x="267.5" y="278.5"/>
<use href="#maCu" x="266.8" y="280.2"/>
<use href="#maNi" x="266.7" y="275.7"/>
<use href="#maNi" x="271.9" y="272.2"/>
<use href="#maNi" x="268.6" y="266.8"/>
<use href="#maNi" x="268.7" y="272.1"/>
<use href="#maNi" x="270.7" y="273.9"/>
<use href="#maNi" x="267.2" y="272.4"/>
<use href="#maNi" x="269.4" y="277.7"/>
<use href="#maNi" x="269.6" y="273.5"/>
<use href="#maNi" x="270.2" y="278.8"/>
<use href="#maNi" x="272.5" y="277.1"/>
<use href="#maNi" x="272.3" y="271.6"/>
<use href="#maNi" x="269.9" y="267.7"/>
<use href="#maNi" x="270.6" y="271.7"/>
<use href="#maNi" x="269.9" y="283.7"/>
<use href="#maNi" x="269.4" y="268.8"/>
<use href="#maNi" x="270.5" y="268.8"/>
<use href="#maNi" x="268.1" y="278.5"/>
<use href="#maNi" x="272.6" y="264.1"/>
<use href="#maPb" x="266.2" y="296.4"/>
<use href="#maPd" x="269.8" y="285.8"/>
<use href="#maPd" x="269.5" y="287.3"/>
<use href="#maPd" x="269.1" y="286.7"/>
<use href="#maPd" x="269.7" y="286.9"/>
<use href="#maPd" x="268.4" y="284.7"/>
<use href="#maPd" x="268.5" y="289.8"/>
<use href="#maPd" x="270.7" y="285.9"/>
<use href="#maPd" x="270.4" y="288.4"/>
<use href="#maPd" x="269.9" y="285.0"/>
<use href="#maPd" x="269.3" y="282.1"/>
<use href="#maPt" x="266.8" y="283.8"/>
<use href="#maPt" x="268.4" y="282.7"/>
<use href="#maPt" x="267.0" y="284.6"/>
<use href="#maPt" x="267.2" y="282.9"/>
<use href="#maPt" x="269.2" y="282.6"/>
<use href="#maAl" x="293.1" y="288.0"/>
<use href="#maAl" x="287.3" y="284.2"/>
<use href="#maPb" x="266.2" y="295.6"/>
<use href="#maNi" x="268.5" y="267.3"/>
<use href="#maNi" x="270.8" y="248.1"/>
<use href="#maNi" x="270.0" y="254.5"/>
<use href="#maNi" x="268.5" y="277.8"/>
<use href="#maRh" x="272.0" y="257.7"/>
<use href="#maRh" x="270.0" y="268.6"/>
<use href="#maPb" x="266.2" y="297.3"/>
<use href="#maPb" x="266.2" y="296.0"/>
</g>
<g clip-path="url(#ca00)">
<path d="M100.7,56.8 101.3,55.7 101.7,52.8 102.8,35.2 103.2,32.2 103.5,35.2 104.6,52.8 105.0,55.7 105.6,56.8Z" fill="#4c72b0" fill-opacity="0.25"/>
<path d="M100.7,56.8 101.3,55.7 101.7,52.8 102.8,35.2 103.2,32.2 103.5,35.2 104.6,52.8 105.0,55.7 105.6,56.8" fill="none" stroke="#4c72b0" stroke-width="0.9"/>
<path d="M82.0,56.7 95.6,55.8 96.4,55.6 97.0,55.1 97.7,53.7 98.3,51.4 100.2,38.1 100.6,36.2 100.9,35.7 101.4,36.4 101.8,38.4 103.7,52.0 104.3,54.3 105.0,55.8 105.8,56.4 107.1,56.7 117.2,56.9Z" fill="#dd8452" fill-opacity="0.25"/>
<path d="M82.0,56.7 95.6,55.8 96.4,55.6 97.0,55.1 97.7,53.7 98.3,51.4 100.2,38.1 100.6,36.2 100.9,35.7 101.4,36.4 101.8,38.4 103.7,52.0 104.3,54.3 105.0,55.8 105.8,56.4 107.1,56.7 117.2,56.9" fill="none" stroke="#dd8452" stroke-width="0.9"/>
<path d="M99.5,56.8 100.2,56.2 100.6,54.6 101.8,45.0 102.3,43.3 102.7,45.0 103.9,54.6 104.4,56.2 105.1,56.8Z" fill="#55a868" fill-opacity="0.25"/>
<path d="M99.5,56.8 100.2,56.2 100.6,54.6 101.8,45.0 102.3,43.3 102.7,45.0 103.9,54.6 104.4,56.2 105.1,56.8" fill="none" stroke="#55a868" stroke-width="0.9"/>
<path d="M106.6,56.6 107.0,54.3 107.4,48.3 108.2,11.0 108.5,5.0 110.4,51.5 110.7,55.5 111.1,56.8Z" fill="#c44e52" fill-opacity="0.25"/>
<path d="M106.6,56.6 107.0,54.3 107.4,48.3 108.2,11.0 108.5,5.0 110.4,51.5 110.7,55.5 111.1,56.8" fill="none" stroke="#c44e52" stroke-width="0.9"/>
<path d="M112.0,56.7 112.7,56.2 113.2,55.2 114.1,51.5 114.8,45.4 116.2,29.5 116.6,26.5 117.0,25.5 117.4,26.2 117.7,28.5 119.5,48.3 120.1,52.3 120.6,54.7 121.2,56.0 121.9,56.4 122.5,56.1 123.5,54.6 123.9,54.5 125.4,56.5 126.6,56.9Z" fill="#8172b3" fill-opacity="0.25"/>
<path d="M112.0,56.7 112.7,56.2 113.2,55.2 114.1,51.5 114.8,45.4 116.2,29.5 116.6,26.5 117.0,25.5 117.4,26.2 117.7,28.5 119.5,48.3 120.1,52.3 120.6,54.7 121.2,56.0 121.9,56.4 122.5,56.1 123.5,54.6 123.9,54.5 125.4,56.5 126.6,56.9" fill="none" stroke="#8172b3" stroke-width="0.9"/>
<path d="M89.3,56.9 92.7,56.5 96.3,55.0 97.6,54.7 98.9,55.0 102.5,56.5 105.9,56.9Z" fill="#937860" fill-opacity="0.25"/>
<path d="M89.3,56.9 92.7,56.5 96.3,55.0 97.6,54.7 98.9,55.0 102.5,56.5 105.9,56.9" fill="none" stroke="#937860" stroke-width="0.9"/>
<path d="M104.2,56.9 104.9,56.7 105.5,56.1 107.0,52.6 107.5,52.0 108.0,52.6 109.5,56.1 110.0,56.7 110.8,56.9Z" fill="#da8bc3" fill-opacity="0.25"/>
<path d="M104.2,56.9 104.9,56.7 105.5,56.1 107.0,52.6 107.5,52.0 108.0,52.6 109.5,56.1 110.0,56.7 110.8,56.9" fill="none" stroke="#da8bc3" stroke-width="0.9"/>
<path d="M106.2,56.9 107.2,56.7 108.0,56.4 109.9,54.0 110.6,53.6 111.3,54.0 113.2,56.4 114.0,56.7 115.1,56.9Z" fill="#8c8c8c" fill-opacity="0.25"/>
<path d="M106.2,56.9 107.2,56.7 108.0,56.4 109.9,54.0 110.6,53.6 111.3,54.0 113.2,56.4 114.0,56.7 115.1,56.9" fill="none" stroke="#8c8c8c" stroke-width="0.9"/>
<path d="M127.9,56.6 128.2,49.0 128.7,9.5 129.1,49.0 129.4,56.6Z" fill="#ccb974" fill-opacity="0.25"/>
<path d="M127.9,56.6 128.2,49.0 128.7,9.5 129.1,49.0 129.4,56.6" fill="none" stroke="#ccb974" stroke-width="0.9"/>
</g>
<g clip-path="url(#ca11)">
<path d="M162.9,116.9 163.4,115.7 163.7,112.3 164.5,91.8 164.8,88.3 165.1,91.8 165.9,112.3 166.2,115.7 166.7,116.9Z" fill="#4c72b0" fill-opacity="0.25"/>
<path d="M162.9,116.9 163.4,115.7 163.7,112.3 164.5,91.8 164.8,88.3 165.1,91.8 165.9,112.3 166.2,115.7 166.7,116.9" fill="none" stroke="#4c72b0" stroke-width="0.9"/>
<path d="M151.4,116.9 152.1,116.4 152.6,115.4 153.6,111.4 154.3,105.0 155.9,87.0 156.3,83.9 156.7,82.9 157.1,83.9 157.5,87.0 159.1,105.0 159.8,111.4 160.8,115.4 161.3,116.4 162.0,116.9Z" fill="#dd8452" fill-opacity="0.25"/>
<path d="M151.4,116.9 152.1,116.4 152.6,115.4 153.6,111.4 154.3,105.0 155.9,87.0 156.3,83.9 156.7,82.9 157.1,83.9 157.5,87.0 159.1,105.0 159.8,111.4 160.8,115.4 161.3,116.4 162.0,116.9" fill="none" stroke="#dd8452" stroke-width="0.9"/>
<path d="M157.8,117.0 158.9,116.4 159.7,114.8 160.4,112.3 161.7,105.2 162.1,103.9 162.5,103.5 162.8,103.9 163.2,105.2 164.6,112.3 165.2,114.8 166.1,116.4 167.2,117.0Z" fill="#55a868" fill-opacity="0.25"/>
<path d="M157.8,117.0 158.9,116.4 159.7,114.8 160.4,112.3 161.7,105.2 162.1,103.9 162.5,103.5 162.8,103.9 163.2,105.2 164.6,112.3 165.2,114.8 166.1,116.4 167.2,117.0" fill="none" stroke="#55a868" stroke-width="0.9"/>
<path d="M159.5,117.1 161.6,116.6 163.1,115.4 164.7,112.8 165.5,109.8 166.3,101.2 167.6,71.5 168.0,67.0 168.2,65.8 168.7,70.9 170.0,101.8 170.7,112.1 171.2,114.6 171.8,116.1 172.7,116.8 174.5,117.1Z" fill="#c44e52" fill-opacity="0.25"/>
<path d="M159.5,117.1 161.6,116.6 163.1,115.4 164.7,112.8 165.5,109.8 166.3,101.2 167.6,71.5 168.0,67.0 168.2,65.8 168.7,70.9 170.0,101.8 170.7,112.1 171.2,114.6 171.8,116.1 172.7,116.8 174.5,117.1" fill="none" stroke="#c44e52" stroke-width="0.9"/>
<path d="M166.4,116.9 167.4,116.4 168.3,115.4 169.0,113.8 169.7,111.4 170.8,105.0 173.2,87.0 173.9,83.9 174.2,83.1 174.5,82.9 174.8,83.1 175.1,83.9 175.8,87.0 178.1,105.0 179.3,111.4 180.0,113.8 180.7,115.4 181.5,116.4 182.6,116.9Z" fill="#8172b3" fill-opacity="0.25"/>
<path d="M166.4,116.9 167.4,116.4 168.3,115.4 169.0,113.8 169.7,111.4 170.8,105.0 173.2,87.0 173.9,83.9 174.2,83.1 174.5,82.9 174.8,83.1 175.1,83.9 175.8,87.0 178.1,105.0 179.3,111.4 180.0,113.8 180.7,115.4 181.5,116.4 182.6,116.9" fill="none" stroke="#8172b3" stroke-width="0.9"/>
<path d="M140.8,117.1 145.9,116.8 151.3,115.7 153.3,115.5 155.3,115.7 160.7,116.8 165.8,117.1Z" fill="#937860" fill-opacity="0.25"/>
<path d="M140.8,117.1 145.9,116.8 151.3,115.7 153.3,115.5 155.3,115.7 160.7,116.8 165.8,117.1" fill="none" stroke="#937860" stroke-width="0.9"/>
<path d="M167.4,117.1 168.6,116.8 169.5,116.2 171.6,112.3 172.1,111.8 172.4,111.7 172.8,111.8 173.2,112.3 175.4,116.2 176.3,116.8 177.4,117.1Z" fill="#da8bc3" fill-opacity="0.25"/>
<path d="M167.4,117.1 168.6,116.8 169.5,116.2 171.6,112.3 172.1,111.8 172.4,111.7 172.8,111.8 173.2,112.3 175.4,116.2 176.3,116.8 177.4,117.1" fill="none" stroke="#da8bc3" stroke-width="0.9"/>
<path d="M174.2,117.1 175.0,116.9 175.7,116.6 177.3,114.2 177.9,113.8 178.5,114.2 180.1,116.6 180.8,116.9 181.7,117.1Z" fill="#8c8c8c" fill-opacity="0.25"/>
<path d="M174.2,117.1 175.0,116.9 175.7,116.6 177.3,114.2 177.9,113.8 178.5,114.2 180.1,116.6 180.8,116.9 181.7,117.1" fill="none" stroke="#8c8c8c" stroke-width="0.9"/>
<path d="M177.8,117.1 178.6,116.6 179.4,114.7 179.7,114.4 180.0,114.7 180.8,116.6 181.5,117.1Z" fill="#ccb974" fill-opacity="0.25"/>
<path d="M177.8,117.1 178.6,116.6 179.4,114.7 179.7,114.4 180.0,114.7 180.8,116.6 181.5,117.1" fill="none" stroke="#ccb974" stroke-width="0.9"/>
</g>
<g clip-path="url(#ca22)">
<path d="M208.0,177.5 208.3,175.9 208.6,171.6 209.5,141.3 210.4,171.6 210.6,175.9 211.0,177.5Z" fill="#4c72b0" fill-opacity="0.25"/>
<path d="M208.0,177.5 208.3,175.9 208.6,171.6 209.5,141.3 210.4,171.6 210.6,175.9 211.0,177.5" fill="none" stroke="#4c72b0" stroke-width="0.9"/>
<path d="M202.5,177.6 203.5,177.2 204.2,176.7 205.5,174.6 206.7,170.2 208.8,160.1 209.5,158.1 210.0,157.6 210.6,158.2 211.3,160.3 213.4,170.5 214.2,173.7 215.3,176.1 216.3,177.2 217.9,177.6 221.8,177.7 232.4,176.9 239.4,177.6 244.5,177.7Z" fill="#dd8452" fill-opacity="0.25"/>
<path d="M202.5,177.6 203.5,177.2 204.2,176.7 205.5,174.6 206.7,170.2 208.8,160.1 209.5,158.1 210.0,157.6 210.6,158.2 211.3,160.3 213.4,170.5 214.2,173.7 215.3,176.1 216.3,177.2 217.9,177.6 221.8,177.7 232.4,176.9 239.4,177.6 244.5,177.7" fill="none" stroke="#dd8452" stroke-width="0.9"/>
<path d="M207.4,177.5 207.7,175.7 208.0,170.9 209.0,137.0 209.9,170.9 210.2,175.7 210.6,177.5Z" fill="#55a868" fill-opacity="0.25"/>
<path d="M207.4,177.5 207.7,175.7 208.0,170.9 209.0,137.0 209.9,170.9 210.2,175.7 210.6,177.5" fill="none" stroke="#55a868" stroke-width="0.9"/>
<path d="M207.8,177.4 208.1,176.6 208.4,175.1 208.9,169.6 210.1,132.2 210.5,126.6 210.9,130.7 212.0,160.2 212.3,161.6 212.9,160.6 213.2,161.2 214.5,174.9 215.0,176.9 215.6,177.6Z" fill="#c44e52" fill-opacity="0.25"/>
<path d="M207.8,177.4 208.1,176.6 208.4,175.1 208.9,169.6 210.1,132.2 210.5,126.6 210.9,130.7 212.0,160.2 212.3,161.6 212.9,160.6 213.2,161.2 214.5,174.9 215.0,176.9 215.6,177.6" fill="none" stroke="#c44e52" stroke-width="0.9"/>
<path d="M209.6,177.4 210.1,176.9 210.4,175.7 211.0,170.9 212.6,139.5 212.9,136.0 213.1,134.6 213.5,136.2 214.3,145.3 214.5,145.6 214.6,145.4 215.1,143.3 215.4,144.6 216.7,172.1 217.1,176.0 217.3,177.0 217.6,177.5Z" fill="#8172b3" fill-opacity="0.25"/>
<path d="M209.6,177.4 210.1,176.9 210.4,175.7 211.0,170.9 212.6,139.5 212.9,136.0 213.1,134.6 213.5,136.2 214.3,145.3 214.5,145.6 214.6,145.4 215.1,143.3 215.4,144.6 216.7,172.1 217.1,176.0 217.3,177.0 217.6,177.5" fill="none" stroke="#8172b3" stroke-width="0.9"/>
<path d="M205.3,177.7 205.9,177.3 206.3,176.3 207.4,170.5 207.8,169.6 208.2,170.5 209.3,176.3 209.7,177.3 210.3,177.7Z" fill="#937860" fill-opacity="0.25"/>
<path d="M205.3,177.7 205.9,177.3 206.3,176.3 207.4,170.5 207.8,169.6 208.2,170.5 209.3,176.3 209.7,177.3 210.3,177.7" fill="none" stroke="#937860" stroke-width="0.9"/>
<path d="M208.5,177.6 209.1,176.8 209.5,174.5 210.6,161.0 211.0,158.7 211.4,161.0 212.5,174.5 212.9,176.8 213.5,177.6Z" fill="#da8bc3" fill-opacity="0.25"/>
<path d="M208.5,177.6 209.1,176.8 209.5,174.5 210.6,161.0 211.0,158.7 211.4,161.0 212.5,174.5 212.9,176.8 213.5,177.6" fill="none" stroke="#da8bc3" stroke-width="0.9"/>
<path d="M207.6,177.6 208.2,176.9 208.6,175.0 209.7,163.4 210.1,161.4 210.5,163.4 211.6,175.0 212.0,176.9 212.6,177.6Z" fill="#8c8c8c" fill-opacity="0.25"/>
<path d="M207.6,177.6 208.2,176.9 208.6,175.0 209.7,163.4 210.1,161.4 210.5,163.4 211.6,175.0 212.0,176.9 212.6,177.6" fill="none" stroke="#8c8c8c" stroke-width="0.9"/>
<path d="M216.9,177.6 217.2,174.4 217.5,157.6 217.9,174.4 218.2,177.6Z" fill="#ccb974" fill-opacity="0.25"/>
<path d="M216.9,177.6 217.2,174.4 217.5,157.6 217.9,174.4 218.2,177.6" fill="none" stroke="#ccb974" stroke-width="0.9"/>
</g>
<g clip-path="url(#ca33)">
<path d="M265.8,238.1 266.1,232.1 266.5,200.8 266.9,232.1 267.2,238.1Z" fill="#4c72b0" fill-opacity="0.25"/>
<path d="M265.8,238.1 266.1,232.1 266.5,200.8 266.9,232.1 267.2,238.1" fill="none" stroke="#4c72b0" stroke-width="0.9"/>
<path d="M258.2,238.3 260.5,238.0 262.2,237.4 263.5,236.4 266.6,233.4 267.3,233.0 268.1,232.9 268.9,233.1 269.6,233.5 273.3,236.9 274.4,237.6 275.7,237.9 278.2,238.0 289.9,237.5 304.0,238.2Z" fill="#dd8452" fill-opacity="0.25"/>
<path d="M258.2,238.3 260.5,238.0 262.2,237.4 263.5,236.4 266.6,233.4 267.3,233.0 268.1,232.9 268.9,233.1 269.6,233.5 273.3,236.9 274.4,237.6 275.7,237.9 278.2,238.0 289.9,237.5 304.0,238.2" fill="none" stroke="#dd8452" stroke-width="0.9"/>
<path d="M265.2,238.2 265.6,235.7 266.2,222.6 266.8,235.7 267.2,238.2Z" fill="#55a868" fill-opacity="0.25"/>
<path d="M265.2,238.2 265.6,235.7 266.2,222.6 266.8,235.7 267.2,238.2" fill="none" stroke="#55a868" stroke-width="0.9"/>
<path d="M266.0,238.0 266.2,235.8 266.4,229.7 267.0,186.7 267.5,229.7 267.7,235.8 268.0,238.0Z" fill="#c44e52" fill-opacity="0.25"/>
<path d="M266.0,238.0 266.2,235.8 266.4,229.7 267.0,186.7 267.5,229.7 267.7,235.8 268.0,238.0" fill="none" stroke="#c44e52" stroke-width="0.9"/>
<path d="M266.2,238.2 266.9,237.5 267.5,235.6 268.8,224.0 269.3,222.0 269.8,224.0 271.1,235.6 271.6,237.5 272.3,238.2Z" fill="#8172b3" fill-opacity="0.25"/>
<path d="M266.2,238.2 266.9,237.5 267.5,235.6 268.8,224.0 269.3,222.0 269.8,224.0 271.1,235.6 271.6,237.5 272.3,238.2" fill="none" stroke="#8172b3" stroke-width="0.9"/>
<path d="M265.0,238.3 265.3,237.9 265.5,236.9 266.2,230.2 266.9,236.9 267.1,237.9 267.4,238.3Z" fill="#937860" fill-opacity="0.25"/>
<path d="M265.0,238.3 265.3,237.9 265.5,236.9 266.2,230.2 266.9,236.9 267.1,237.9 267.4,238.3" fill="none" stroke="#937860" stroke-width="0.9"/>
<path d="M266.8,238.3 267.4,238.0 267.8,237.2 268.9,232.6 269.3,231.8 269.7,232.6 270.7,237.2 271.2,238.0 271.7,238.3Z" fill="#da8bc3" fill-opacity="0.25"/>
<path d="M266.8,238.3 267.4,238.0 267.8,237.2 268.9,232.6 269.3,231.8 269.7,232.6 270.7,237.2 271.2,238.0 271.7,238.3" fill="none" stroke="#da8bc3" stroke-width="0.9"/>
<path d="M265.3,238.3 265.9,238.0 266.3,237.2 267.3,232.6 267.7,231.8 268.1,232.6 269.2,237.2 269.6,238.0 270.2,238.3Z" fill="#8c8c8c" fill-opacity="0.25"/>
<path d="M265.3,238.3 265.9,238.0 266.3,237.2 267.3,232.6 267.7,231.8 268.1,232.6 269.2,237.2 269.6,238.0 270.2,238.3" fill="none" stroke="#8c8c8c" stroke-width="0.9"/>
<path d="M268.4,238.3 269.4,237.9 270.4,236.4 270.8,236.1 271.2,236.4 272.3,237.9 273.3,238.3Z" fill="#ccb974" fill-opacity="0.25"/>
<path d="M268.4,238.3 269.4,237.9 270.4,236.4 270.8,236.1 271.2,236.4 272.3,237.9 273.3,238.3" fill="none" stroke="#ccb974" stroke-width="0.9"/>
</g>
<g clip-path="url(#ca44)">
<path d="M316.3,298.9 317.8,298.4 318.8,296.8 319.7,294.4 321.4,287.5 321.9,286.3 322.4,286.0 322.8,286.3 323.4,287.5 325.1,294.4 326.0,296.8 327.0,298.4 328.4,298.9Z" fill="#4c72b0" fill-opacity="0.25"/>
<path d="M316.3,298.9 317.8,298.4 318.8,296.8 319.7,294.4 321.4,287.5 321.9,286.3 322.4,286.0 322.8,286.3 323.4,287.5 325.1,294.4 326.0,296.8 327.0,298.4 328.4,298.9" fill="none" stroke="#4c72b0" stroke-width="0.9"/>
<path d="M316.9,298.9 317.5,298.6 317.9,298.0 318.6,295.6 320.2,282.2 320.7,279.6 321.0,279.5 321.3,280.3 322.2,287.4 322.5,288.4 322.7,288.3 323.9,275.2 324.2,278.0 325.2,295.1 325.5,297.9 326.0,298.9Z" fill="#dd8452" fill-opacity="0.25"/>
<path d="M316.9,298.9 317.5,298.6 317.9,298.0 318.6,295.6 320.2,282.2 320.7,279.6 321.0,279.5 321.3,280.3 322.2,287.4 322.5,288.4 322.7,288.3 323.9,275.2 324.2,278.0 325.2,295.1 325.5,297.9 326.0,298.9" fill="none" stroke="#dd8452" stroke-width="0.9"/>
<path d="M316.8,298.9 317.4,298.5 317.9,298.0 318.7,295.5 319.3,291.5 320.6,280.4 321.0,278.4 321.4,277.8 321.7,278.4 322.1,280.4 323.4,291.5 324.0,295.5 324.8,298.0 325.3,298.5 325.9,298.9Z" fill="#55a868" fill-opacity="0.25"/>
<path d="M316.8,298.9 317.4,298.5 317.9,298.0 318.7,295.5 319.3,291.5 320.6,280.4 321.0,278.4 321.4,277.8 321.7,278.4 322.1,280.4 323.4,291.5 324.0,295.5 324.8,298.0 325.3,298.5 325.9,298.9" fill="none" stroke="#55a868" stroke-width="0.9"/>
<path d="M322.0,298.7 322.5,296.7 322.9,291.0 324.0,254.4 324.4,248.5 324.8,254.4 325.6,282.2 326.2,290.2 326.5,291.7 327.5,293.4 329.2,297.6 330.1,298.6 331.3,299.0Z" fill="#c44e52" fill-opacity="0.25"/>
<path d="M322.0,298.7 322.5,296.7 322.9,291.0 324.0,254.4 324.4,248.5 324.8,254.4 325.6,282.2 326.2,290.2 326.5,291.7 327.5,293.4 329.2,297.6 330.1,298.6 331.3,299.0" fill="none" stroke="#c44e52" stroke-width="0.9"/>
<path d="M325.2,298.9 326.1,298.6 327.0,297.9 327.7,296.7 328.2,295.2 329.3,290.3 331.5,276.6 332.1,274.5 332.6,273.6 333.0,273.9 333.6,275.3 335.8,285.6 337.0,289.7 338.5,292.4 341.7,296.3 343.2,297.5 344.6,298.0 345.7,298.1 349.6,297.6 354.5,298.8 358.2,299.0Z" fill="#8172b3" fill-opacity="0.25"/>
<path d="M325.2,298.9 326.1,298.6 327.0,297.9 327.7,296.7 328.2,295.2 329.3,290.3 331.5,276.6 332.1,274.5 332.6,273.6 333.0,273.9 333.6,275.3 335.8,285.6 337.0,289.7 338.5,292.4 341.7,296.3 343.2,297.5 344.6,298.0 345.7,298.1 349.6,297.6 354.5,298.8 358.2,299.0" fill="none" stroke="#8172b3" stroke-width="0.9"/>
<path d="M314.6,298.9 315.2,298.3 315.7,296.7 316.8,287.1 317.2,285.4 317.6,287.1 318.7,296.7 319.2,298.3 319.8,298.9Z" fill="#937860" fill-opacity="0.25"/>
<path d="M314.6,298.9 315.2,298.3 315.7,296.7 316.8,287.1 317.2,285.4 317.6,287.1 318.7,296.7 319.2,298.3 319.8,298.9" fill="none" stroke="#937860" stroke-width="0.9"/>
<path d="M321.4,298.9 322.1,298.5 322.6,297.2 323.9,289.4 324.4,288.1 324.9,289.4 326.2,297.2 326.7,298.5 327.4,298.9Z" fill="#da8bc3" fill-opacity="0.25"/>
<path d="M321.4,298.9 322.1,298.5 322.6,297.2 323.9,289.4 324.4,288.1 324.9,289.4 326.2,297.2 326.7,298.5 327.4,298.9" fill="none" stroke="#da8bc3" stroke-width="0.9"/>
<path d="M322.2,299.0 323.0,298.6 323.6,297.6 325.2,291.8 325.8,290.9 326.4,291.8 327.9,297.6 328.6,298.6 329.4,299.0Z" fill="#8c8c8c" fill-opacity="0.25"/>
<path d="M322.2,299.0 323.0,298.6 323.6,297.6 325.2,291.8 325.8,290.9 326.4,291.8 327.9,297.6 328.6,298.6 329.4,299.0" fill="none" stroke="#8c8c8c" stroke-width="0.9"/>
</g>
<text x="334.50" y="6.30" font-size="8.14" text-anchor="middle" fill="#262626" textLength="27.64" lengthAdjust="spacingAndGlyphs">species</text>
<circle cx="327.50" cy="14.10" r="2.50" fill="#4c72b0" stroke="#fff" stroke-width="0.3"/>
<text x="340.00" y="16.10" font-size="8.03" text-anchor="start" fill="#262626" textLength="9.63" lengthAdjust="spacingAndGlyphs">Ag</text>
<polygon points="327.50,21.56 330.00,26.56 325.00,26.56" fill="#dd8452" stroke="#fff" stroke-width="0.3"/>
<text x="340.00" y="26.06" font-size="8.03" text-anchor="start" fill="#262626" textLength="7.02" lengthAdjust="spacingAndGlyphs">Al</text>
<polygon points="327.50,36.52 330.00,31.52 325.00,31.52" fill="#55a868" stroke="#fff" stroke-width="0.3"/>
<text x="340.00" y="36.02" font-size="8.03" text-anchor="start" fill="#262626" textLength="9.62" lengthAdjust="spacingAndGlyphs">Au</text>
<polygon points="325.00,43.98 330.00,41.48 330.00,46.48" fill="#c44e52" stroke="#fff" stroke-width="0.3"/>
<text x="340.00" y="45.98" font-size="8.03" text-anchor="start" fill="#262626" textLength="9.72" lengthAdjust="spacingAndGlyphs">Cu</text>
<polygon points="330.00,53.94 325.00,51.44 325.00,56.44" fill="#8172b3" stroke="#fff" stroke-width="0.3"/>
<text x="340.00" y="55.94" font-size="8.03" text-anchor="start" fill="#262626" textLength="7.49" lengthAdjust="spacingAndGlyphs">Ni</text>
<polygon points="325.20,61.60 329.80,61.60 329.80,66.20 325.20,66.20" fill="#937860" stroke="#fff" stroke-width="0.3"/>
<text x="340.00" y="65.90" font-size="8.03" text-anchor="start" fill="#262626" textLength="9.04" lengthAdjust="spacingAndGlyphs">Pb</text>
<polygon points="327.50,70.61 330.75,73.86 327.50,77.11 324.25,73.86" fill="#da8bc3" stroke="#fff" stroke-width="0.3"/>
<text x="340.00" y="75.86" font-size="8.03" text-anchor="start" fill="#262626" textLength="9.04" lengthAdjust="spacingAndGlyphs">Pd</text>
<polygon points="327.50,81.32 329.88,83.05 328.97,85.84 326.03,85.84 325.12,83.05" fill="#8c8c8c" stroke="#fff" stroke-width="0.3"/>
<text x="340.00" y="85.82" font-size="8.03" text-anchor="start" fill="#262626" textLength="7.26" lengthAdjust="spacingAndGlyphs">Pt</text>
<polygon points="326.25,91.28 327.50,92.53 328.75,91.28 330.00,92.53 328.75,93.78 330.00,95.03 328.75,96.28 327.50,95.03 326.25,96.28 325.00,95.03 326.25,93.78 325.00,92.53" fill="#ccb974" stroke="#fff" stroke-width="0.3"/>
<text x="340.00" y="95.78" font-size="8.03" text-anchor="start" fill="#262626" textLength="9.70" lengthAdjust="spacingAndGlyphs">Rh</text>
</g>
<g id="panel-b">
<text x="393.60" y="18.70" font-size="14.56" text-anchor="start" fill="#000" textLength="21.20" lengthAdjust="spacingAndGlyphs">(b)</text>
<rect x="480.00" y="68.50" width="32.22" height="34.00" fill="#a9373b"/>
<rect x="480.00" y="102.20" width="32.22" height="34.00" fill="#b75756"/>
<rect x="511.92" y="102.20" width="32.22" height="34.00" fill="#a9373b"/>
<rect x="480.00" y="135.90" width="32.22" height="34.00" fill="#e0b7b5"/>
<rect x="511.92" y="135.90" width="32.22" height="34.00" fill="#cc8582"/>
<rect x="543.84" y="135.90" width="32.22" height="34.00" fill="#a9373b"/>
<rect x="480.00" y="169.60" width="32.22" height="34.00" fill="#f3f1f3"/>
<rect x="511.92" y="169.60" width="32.22" height="34.00" fill="#eacdcb"/>
<rect x="543.84" y="169.60" width="32.22" height="34.00" fill="#b75756"/>
<rect x="575.76" y="169.60" width="32.22" height="34.00" fill="#a9373b"/>
<rect x="480.00" y="203.30" width="32.22" height="34.00" fill="#b95b5a"/>
<rect x="511.92" y="203.30" width="32.22" height="34.00" fill="#c47371"/>
<rect x="543.84" y="203.30" width="32.22" height="34.00" fill="#cf8c8a"/>
<rect x="575.76" y="203.30" width="32.22" height="34.00" fill="#f4e3e2"/>
<rect x="607.68" y="203.30" width="32.22" height="34.00" fill="#a9373b"/>
<text x="495.96" y="88.05" font-size="8.14" text-anchor="middle" fill="#ffffff" textLength="11.77" lengthAdjust="spacingAndGlyphs">1.0</text>
<text x="495.96" y="121.75" font-size="8.14" text-anchor="middle" fill="#ffffff" textLength="11.77" lengthAdjust="spacingAndGlyphs">0.8</text>
<text x="527.88" y="121.75" font-size="8.14" text-anchor="middle" fill="#ffffff" textLength="11.77" lengthAdjust="spacingAndGlyphs">1.0</text>
<text x="495.96" y="155.45" font-size="8.14" text-anchor="middle" fill="#262626" textLength="11.77" lengthAdjust="spacingAndGlyphs">0.3</text>
<text x="527.88" y="155.45" font-size="8.14" text-anchor="middle" fill="#ffffff" textLength="11.77" lengthAdjust="spacingAndGlyphs">0.6</text>
<text x="559.80" y="155.45" font-size="8.14" text-anchor="middle" fill="#ffffff" textLength="11.77" lengthAdjust="spacingAndGlyphs">1.0</text>
<text x="495.96" y="189.15" font-size="8.14" text-anchor="middle" fill="#262626" textLength="14.44" lengthAdjust="spacingAndGlyphs">-0.0</text>
<text x="527.88" y="189.15" font-size="8.14" text-anchor="middle" fill="#262626" textLength="11.77" lengthAdjust="spacingAndGlyphs">0.2</text>
<text x="559.80" y="189.15" font-size="8.14" text-anchor="middle" fill="#ffffff" textLength="11.77" lengthAdjust="spacingAndGlyphs">0.8</text>
<text x="591.72" y="189.15" font-size="8.14" text-anchor="middle" fill="#ffffff" textLength="11.77" lengthAdjust="spacingAndGlyphs">1.0</text>
<text x="495.96" y="222.85" font-size="8.14" text-anchor="middle" fill="#ffffff" textLength="11.77" lengthAdjust="spacingAndGlyphs">0.8</text>
<text x="527.88" y="222.85" font-size="8.14" text-anchor="middle" fill="#ffffff" textLength="11.77" lengthAdjust="spacingAndGlyphs">0.7</text>
<text x="559.80" y="222.85" font-size="8.14" text-anchor="middle" fill="#ffffff" textLength="11.77" lengthAdjust="spacingAndGlyphs">0.6</text>
<text x="591.72" y="222.85" font-size="8.14" text-anchor="middle" fill="#262626" textLength="11.77" lengthAdjust="spacingAndGlyphs">0.1</text>
<text x="623.64" y="222.85" font-size="8.14" text-anchor="middle" fill="#ffffff" textLength="11.77" lengthAdjust="spacingAndGlyphs">1.0</text>
<text x="471.00" y="88.05" font-size="8.25" text-anchor="end" fill="#262626" textLength="31.95" lengthAdjust="spacingAndGlyphs">C44 FCC</text>
<text x="498.66" y="246.20" font-size="8.25" text-anchor="end" fill="#262626" textLength="31.95" lengthAdjust="spacingAndGlyphs" transform="rotate(-90 498.66 246.20)">C44 FCC</text>
<text x="471.00" y="121.75" font-size="8.25" text-anchor="end" fill="#262626" textLength="38.96" lengthAdjust="spacingAndGlyphs">rVFPE FCC</text>
<text x="530.58" y="246.20" font-size="8.25" text-anchor="end" fill="#262626" textLength="38.96" lengthAdjust="spacingAndGlyphs" transform="rotate(-90 530.58 246.20)">rVFPE FCC</text>
<text x="471.00" y="155.45" font-size="8.25" text-anchor="end" fill="#262626" textLength="35.74" lengthAdjust="spacingAndGlyphs">uSFE FCC</text>
<text x="562.50" y="246.20" font-size="8.25" text-anchor="end" fill="#262626" textLength="35.74" lengthAdjust="spacingAndGlyphs" transform="rotate(-90 562.50 246.20)">uSFE FCC</text>
<text x="471.00" y="189.15" font-size="8.25" text-anchor="end" fill="#262626" textLength="33.07" lengthAdjust="spacingAndGlyphs">iSFE FCC</text>
<text x="594.42" y="246.20" font-size="8.25" text-anchor="end" fill="#262626" textLength="33.07" lengthAdjust="spacingAndGlyphs" transform="rotate(-90 594.42 246.20)">iSFE FCC</text>
<text x="471.00" y="222.85" font-size="8.25" text-anchor="end" fill="#262626" textLength="32.44" lengthAdjust="spacingAndGlyphs">Strength</text>
<text x="626.34" y="246.20" font-size="8.25" text-anchor="end" fill="#262626" textLength="32.44" lengthAdjust="spacingAndGlyphs" transform="rotate(-90 626.34 246.20)">Strength</text>
<defs><linearGradient id="cbg" x1="0" x2="1" y1="0" y2="0"><stop offset="0.00" stop-color="#2369bd"/><stop offset="0.05" stop-color="#4276bc"/><stop offset="0.10" stop-color="#5b84bd"/><stop offset="0.15" stop-color="#7192c0"/><stop offset="0.20" stop-color="#87a0c4"/><stop offset="0.25" stop-color="#9baecb"/><stop offset="0.30" stop-color="#afbcd1"/><stop offset="0.35" stop-color="#c3cbda"/><stop offset="0.40" stop-color="#d9dce5"/><stop offset="0.45" stop-color="#eeedf0"/><stop offset="0.50" stop-color="#faf5f4"/><stop offset="0.55" stop-color="#f6e8e7"/><stop offset="0.60" stop-color="#ecd3d2"/><stop offset="0.65" stop-color="#e3bfbd"/><stop offset="0.70" stop-color="#dbaba8"/><stop offset="0.75" stop-color="#d39794"/><stop offset="0.80" stop-color="#cc8582"/><stop offset="0.85" stop-color="#c3726f"/><stop offset="0.90" stop-color="#bb5e5d"/><stop offset="0.95" stop-color="#b24a4b"/><stop offset="1.00" stop-color="#a9373b"/></linearGradient></defs>
<rect x="519.60" y="53.10" width="80.30" height="4.00" fill="url(#cbg)"/>
<line x1="519.90" y1="48.20" x2="519.90" y2="53.40" stroke="#262626" stroke-width="1.2"/>
<text x="519.90" y="42.80" font-size="10.78" text-anchor="middle" fill="#262626" textLength="14.45" lengthAdjust="spacingAndGlyphs">−1</text>
<line x1="559.90" y1="48.20" x2="559.90" y2="53.40" stroke="#262626" stroke-width="1.2"/>
<text x="559.90" y="42.80" font-size="10.78" text-anchor="middle" fill="#262626" textLength="6.24" lengthAdjust="spacingAndGlyphs">0</text>
<line x1="599.70" y1="48.20" x2="599.70" y2="53.40" stroke="#262626" stroke-width="1.2"/>
<text x="599.70" y="42.80" font-size="10.78" text-anchor="middle" fill="#262626" textLength="6.24" lengthAdjust="spacingAndGlyphs">1</text>
</g>
<g id="panel-c">
<text x="-1.00" y="344.60" font-size="14.56" text-anchor="start" fill="#000" textLength="19.93" lengthAdjust="spacingAndGlyphs">(c)</text>
<defs><clipPath id="cc"><rect x="92.6" y="342.8" width="213.85" height="218.59999999999997"/></clipPath></defs>
<g clip-path="url(#cc)">
<circle cx="127.00" cy="526.00" r="3.80" fill="#1f77b4" stroke="#fff" stroke-width="0.8"/>
<circle cx="130.50" cy="522.60" r="3.80" fill="#1f77b4" stroke="#fff" stroke-width="0.8"/>
<circle cx="134.80" cy="518.20" r="3.80" fill="#1f77b4" stroke="#fff" stroke-width="0.8"/>
<polygon points="146.20,497.00 153.80,493.20 153.80,500.80" fill="#d62728" stroke="#fff" stroke-width="0.8"/>
<polygon points="141.50,495.50 149.10,491.70 149.10,499.30" fill="#d62728" stroke="#fff" stroke-width="0.8"/>
<polygon points="223.80,456.30 216.20,452.50 216.20,460.10" fill="#9467bd" stroke="#fff" stroke-width="0.8"/>
<polygon points="206.60,457.00 199.00,453.20 199.00,460.80" fill="#9467bd" stroke="#fff" stroke-width="0.8"/>
<polygon points="112.10,509.20 115.90,516.80 108.30,516.80" fill="#ff7f0e" stroke="#fff" stroke-width="0.8"/>
<polygon points="136.10,498.83 141.47,504.20 136.10,509.57 130.73,504.20" fill="#e377c2" stroke="#fff" stroke-width="0.8"/>
<polygon points="144.60,512.70 152.20,508.90 152.20,516.50" fill="#d62728" stroke="#fff" stroke-width="0.8"/>
<polygon points="185.20,455.50 177.60,451.70 177.60,459.30" fill="#9467bd" stroke="#fff" stroke-width="0.8"/>
<polygon points="180.10,456.30 172.50,452.50 172.50,460.10" fill="#9467bd" stroke="#fff" stroke-width="0.8"/>
<polygon points="155.80,483.80 163.40,480.00 163.40,487.60" fill="#d62728" stroke="#fff" stroke-width="0.8"/>
<polygon points="182.30,450.00 174.70,446.20 174.70,453.80" fill="#9467bd" stroke="#fff" stroke-width="0.8"/>
<polygon points="154.20,488.40 161.80,484.60 161.80,492.20" fill="#d62728" stroke="#fff" stroke-width="0.8"/>
<polygon points="153.00,485.63 158.37,491.00 153.00,496.37 147.63,491.00" fill="#e377c2" stroke="#fff" stroke-width="0.8"/>
<polygon points="229.80,438.30 222.20,434.50 222.20,442.10" fill="#9467bd" stroke="#fff" stroke-width="0.8"/>
<polygon points="159.40,482.80 167.00,479.00 167.00,486.60" fill="#d62728" stroke="#fff" stroke-width="0.8"/>
<polygon points="159.20,486.00 166.80,482.20 166.80,489.80" fill="#d62728" stroke="#fff" stroke-width="0.8"/>
<polygon points="217.80,436.60 210.20,432.80 210.20,440.40" fill="#9467bd" stroke="#fff" stroke-width="0.8"/>
<polygon points="131.00,515.80 134.80,508.20 127.20,508.20" fill="#2ca02c" stroke="#fff" stroke-width="0.8"/>
<polygon points="178.60,468.70 171.00,464.90 171.00,472.50" fill="#9467bd" stroke="#fff" stroke-width="0.8"/>
<polygon points="135.70,527.33 141.07,532.70 135.70,538.07 130.33,532.70" fill="#e377c2" stroke="#fff" stroke-width="0.8"/>
<polygon points="140.50,517.50 144.30,525.10 136.70,525.10" fill="#ff7f0e" stroke="#fff" stroke-width="0.8"/>
<polygon points="126.80,490.50 130.60,498.10 123.00,498.10" fill="#ff7f0e" stroke="#fff" stroke-width="0.8"/>
<polygon points="124.80,522.40 128.60,514.80 121.00,514.80" fill="#2ca02c" stroke="#fff" stroke-width="0.8"/>
<polygon points="141.20,502.93 146.57,508.30 141.20,513.67 135.83,508.30" fill="#e377c2" stroke="#fff" stroke-width="0.8"/>
<polygon points="176.20,482.80 183.80,479.00 183.80,486.60" fill="#d62728" stroke="#fff" stroke-width="0.8"/>
<polygon points="156.20,491.00 163.80,487.20 163.80,494.80" fill="#d62728" stroke="#fff" stroke-width="0.8"/>
<polygon points="187.70,408.00 180.10,404.20 180.10,411.80" fill="#9467bd" stroke="#fff" stroke-width="0.8"/>
<polygon points="200.50,468.00 192.90,464.20 192.90,471.80" fill="#9467bd" stroke="#fff" stroke-width="0.8"/>
<polygon points="172.00,457.70 164.40,453.90 164.40,461.50" fill="#9467bd" stroke="#fff" stroke-width="0.8"/>
<polygon points="197.60,460.00 190.00,456.20 190.00,463.80" fill="#9467bd" stroke="#fff" stroke-width="0.8"/>
<polygon points="189.60,478.90 182.00,475.10 182.00,482.70" fill="#9467bd" stroke="#fff" stroke-width="0.8"/>
<polygon points="150.90,482.03 156.27,487.40 150.90,492.77 145.53,487.40" fill="#e377c2" stroke="#fff" stroke-width="0.8"/>
<polygon points="148.90,478.20 156.50,474.40 156.50,482.00" fill="#d62728" stroke="#fff" stroke-width="0.8"/>
<polygon points="182.00,449.00 174.40,445.20 174.40,452.80" fill="#9467bd" stroke="#fff" stroke-width="0.8"/>
<polygon points="102.00,547.60 109.60,547.60 109.60,555.20 102.00,555.20" fill="#8c564b" stroke="#fff" stroke-width="0.8"/>
<polygon points="98.80,545.20 106.40,545.20 106.40,552.80 98.80,552.80" fill="#8c564b" stroke="#fff" stroke-width="0.8"/>
<polygon points="191.80,458.50 184.20,454.70 184.20,462.30" fill="#9467bd" stroke="#fff" stroke-width="0.8"/>
<polygon points="255.60,388.70 257.50,390.60 259.40,388.70 261.30,390.60 259.40,392.50 261.30,394.40 259.40,396.30 257.50,394.40 255.60,396.30 253.70,394.40 255.60,392.50 253.70,390.60" fill="#bcbd22" stroke="#fff" stroke-width="0.8"/>
<polygon points="142.30,456.10 146.10,463.70 138.50,463.70" fill="#ff7f0e" stroke="#fff" stroke-width="0.8"/>
<polygon points="218.10,433.00 210.50,429.20 210.50,436.80" fill="#9467bd" stroke="#fff" stroke-width="0.8"/>
<polygon points="299.80,439.60 292.20,435.80 292.20,443.40" fill="#9467bd" stroke="#fff" stroke-width="0.8"/>
<polygon points="189.60,482.60 182.00,478.80 182.00,486.40" fill="#9467bd" stroke="#fff" stroke-width="0.8"/>
<polygon points="143.80,516.20 147.60,523.80 140.00,523.80" fill="#ff7f0e" stroke="#fff" stroke-width="0.8"/>
<polygon points="190.80,462.00 183.20,458.20 183.20,465.80" fill="#9467bd" stroke="#fff" stroke-width="0.8"/>
<polygon points="153.80,487.90 161.40,484.10 161.40,491.70" fill="#d62728" stroke="#fff" stroke-width="0.8"/>
<polygon points="141.40,504.03 146.77,509.40 141.40,514.77 136.03,509.40" fill="#e377c2" stroke="#fff" stroke-width="0.8"/>
<polygon points="197.30,460.60 189.70,456.80 189.70,464.40" fill="#9467bd" stroke="#fff" stroke-width="0.8"/>
<polygon points="223.80,448.30 216.20,444.50 216.20,452.10" fill="#9467bd" stroke="#fff" stroke-width="0.8"/>
<polygon points="132.70,506.10 136.50,513.70 128.90,513.70" fill="#ff7f0e" stroke="#fff" stroke-width="0.8"/>
<polygon points="151.20,492.00 158.80,488.20 158.80,495.80" fill="#d62728" stroke="#fff" stroke-width="0.8"/>
<polygon points="122.00,513.20 125.80,520.80 118.20,520.80" fill="#ff7f0e" stroke="#fff" stroke-width="0.8"/>
<polygon points="162.20,480.00 169.80,476.20 169.80,483.80" fill="#d62728" stroke="#fff" stroke-width="0.8"/>
<polygon points="128.30,484.10 132.10,491.70 124.50,491.70" fill="#ff7f0e" stroke="#fff" stroke-width="0.8"/>
<polygon points="107.70,518.50 115.30,518.50 115.30,526.10 107.70,526.10" fill="#8c564b" stroke="#fff" stroke-width="0.8"/>
<polygon points="185.20,460.70 177.60,456.90 177.60,464.50" fill="#9467bd" stroke="#fff" stroke-width="0.8"/>
<polygon points="156.00,489.13 161.37,494.50 156.00,499.87 150.63,494.50" fill="#e377c2" stroke="#fff" stroke-width="0.8"/>
<polygon points="120.80,516.60 124.60,524.20 117.00,524.20" fill="#ff7f0e" stroke="#fff" stroke-width="0.8"/>
<polygon points="118.20,523.60 122.00,531.20 114.40,531.20" fill="#ff7f0e" stroke="#fff" stroke-width="0.8"/>
<polygon points="173.90,468.00 181.50,464.20 181.50,471.80" fill="#d62728" stroke="#fff" stroke-width="0.8"/>
<polygon points="273.80,440.30 266.20,436.50 266.20,444.10" fill="#9467bd" stroke="#fff" stroke-width="0.8"/>
<polygon points="196.80,464.30 189.20,460.50 189.20,468.10" fill="#9467bd" stroke="#fff" stroke-width="0.8"/>
<polygon points="152.40,523.30 156.20,515.70 148.60,515.70" fill="#2ca02c" stroke="#fff" stroke-width="0.8"/>
<polygon points="125.60,529.90 129.40,522.30 121.80,522.30" fill="#2ca02c" stroke="#fff" stroke-width="0.8"/>
<polygon points="119.50,508.70 123.30,516.30 115.70,516.30" fill="#ff7f0e" stroke="#fff" stroke-width="0.8"/>
<polygon points="139.20,518.80 143.00,526.40 135.40,526.40" fill="#ff7f0e" stroke="#fff" stroke-width="0.8"/>
<polygon points="137.00,515.20 140.80,522.80 133.20,522.80" fill="#ff7f0e" stroke="#fff" stroke-width="0.8"/>
<polygon points="187.40,468.20 179.80,464.40 179.80,472.00" fill="#9467bd" stroke="#fff" stroke-width="0.8"/>
<polygon points="136.20,517.60 140.00,510.00 132.40,510.00" fill="#2ca02c" stroke="#fff" stroke-width="0.8"/>
<polygon points="127.00,525.80 130.80,518.20 123.20,518.20" fill="#2ca02c" stroke="#fff" stroke-width="0.8"/>
<polygon points="102.60,540.60 110.20,540.60 110.20,548.20 102.60,548.20" fill="#8c564b" stroke="#fff" stroke-width="0.8"/>
<polygon points="129.60,520.70 133.40,513.10 125.80,513.10" fill="#2ca02c" stroke="#fff" stroke-width="0.8"/>
<polygon points="200.80,467.70 193.20,463.90 193.20,471.50" fill="#9467bd" stroke="#fff" stroke-width="0.8"/>
<polygon points="193.80,466.00 186.20,462.20 186.20,469.80" fill="#9467bd" stroke="#fff" stroke-width="0.8"/>
<polygon points="123.90,525.80 127.70,533.40 120.10,533.40" fill="#ff7f0e" stroke="#fff" stroke-width="0.8"/>
<polygon points="164.50,473.60 172.10,469.80 172.10,477.40" fill="#d62728" stroke="#fff" stroke-width="0.8"/>
<polygon points="236.80,422.80 229.20,419.00 229.20,426.60" fill="#9467bd" stroke="#fff" stroke-width="0.8"/>
<polygon points="223.80,449.80 216.20,446.00 216.20,453.60" fill="#9467bd" stroke="#fff" stroke-width="0.8"/>
<polygon points="157.10,500.40 160.90,508.00 153.30,508.00" fill="#ff7f0e" stroke="#fff" stroke-width="0.8"/>
<polygon points="128.30,513.20 132.10,505.60 124.50,505.60" fill="#2ca02c" stroke="#fff" stroke-width="0.8"/>
<polygon points="147.00,494.63 152.37,500.00 147.00,505.37 141.63,500.00" fill="#e377c2" stroke="#fff" stroke-width="0.8"/>
<polygon points="116.00,520.20 119.80,527.80 112.20,527.80" fill="#ff7f0e" stroke="#fff" stroke-width="0.8"/>
<polygon points="143.20,505.00 150.80,501.20 150.80,508.80" fill="#d62728" stroke="#fff" stroke-width="0.8"/>
<polygon points="172.80,464.30 165.20,460.50 165.20,468.10" fill="#9467bd" stroke="#fff" stroke-width="0.8"/>
<polygon points="113.80,527.10 117.60,534.70 110.00,534.70" fill="#ff7f0e" stroke="#fff" stroke-width="0.8"/>
<polygon points="156.60,519.60 160.40,527.20 152.80,527.20" fill="#ff7f0e" stroke="#fff" stroke-width="0.8"/>
<polygon points="213.10,400.20 215.00,402.10 216.90,400.20 218.80,402.10 216.90,404.00 218.80,405.90 216.90,407.80 215.00,405.90 213.10,407.80 211.20,405.90 213.10,404.00 211.20,402.10" fill="#bcbd22" stroke="#fff" stroke-width="0.8"/>
<polygon points="152.00,490.20 155.61,492.83 154.23,497.07 149.77,497.07 148.39,492.83" fill="#7f7f7f" stroke="#fff" stroke-width="0.8"/>
<polygon points="165.20,473.60 168.81,476.23 167.43,480.47 162.97,480.47 161.59,476.23" fill="#7f7f7f" stroke="#fff" stroke-width="0.8"/>
<polygon points="149.40,495.80 153.01,498.43 151.63,502.67 147.17,502.67 145.79,498.43" fill="#7f7f7f" stroke="#fff" stroke-width="0.8"/>
<polygon points="146.70,496.90 150.31,499.53 148.93,503.77 144.47,503.77 143.09,499.53" fill="#7f7f7f" stroke="#fff" stroke-width="0.8"/>
<polygon points="160.60,494.00 164.21,496.63 162.83,500.87 158.37,500.87 156.99,496.63" fill="#7f7f7f" stroke="#fff" stroke-width="0.8"/>
<polygon points="145.30,497.90 148.91,500.53 147.53,504.77 143.07,504.77 141.69,500.53" fill="#7f7f7f" stroke="#fff" stroke-width="0.8"/>
<line x1="101.90" y1="547.60" x2="296.90" y2="352.70" stroke="#1f77b4" stroke-width="2.2" stroke-linecap="square"/>
</g>
<rect x="92.6" y="342.8" width="213.85" height="218.59999999999997" fill="none" stroke="#000" stroke-width="1.1"/>
<line x1="88.10" y1="511.60" x2="92.60" y2="511.60" stroke="#000" stroke-width="1.05"/>
<text x="83.40" y="517.40" font-size="14.3" text-anchor="end" fill="#000" textLength="33.09" lengthAdjust="spacingAndGlyphs">1000</text>
<line x1="137.45" y1="561.40" x2="137.45" y2="565.70" stroke="#000" stroke-width="1.05"/>
<text x="137.45" y="580.90" font-size="14.3" text-anchor="middle" fill="#000" textLength="33.09" lengthAdjust="spacingAndGlyphs">1000</text>
<line x1="88.10" y1="460.90" x2="92.60" y2="460.90" stroke="#000" stroke-width="1.05"/>
<text x="83.40" y="466.70" font-size="14.3" text-anchor="end" fill="#000" textLength="33.09" lengthAdjust="spacingAndGlyphs">2000</text>
<line x1="188.13" y1="561.40" x2="188.13" y2="565.70" stroke="#000" stroke-width="1.05"/>
<text x="188.13" y="580.90" font-size="14.3" text-anchor="middle" fill="#000" textLength="33.09" lengthAdjust="spacingAndGlyphs">2000</text>
<line x1="88.10" y1="410.20" x2="92.60" y2="410.20" stroke="#000" stroke-width="1.05"/>
<text x="83.40" y="416.00" font-size="14.3" text-anchor="end" fill="#000" textLength="33.09" lengthAdjust="spacingAndGlyphs">3000</text>
<line x1="238.81" y1="561.40" x2="238.81" y2="565.70" stroke="#000" stroke-width="1.05"/>
<text x="238.81" y="580.90" font-size="14.3" text-anchor="middle" fill="#000" textLength="33.09" lengthAdjust="spacingAndGlyphs">3000</text>
<line x1="88.10" y1="359.50" x2="92.60" y2="359.50" stroke="#000" stroke-width="1.05"/>
<text x="83.40" y="365.30" font-size="14.3" text-anchor="end" fill="#000" textLength="33.09" lengthAdjust="spacingAndGlyphs">4000</text>
<line x1="289.49" y1="561.40" x2="289.49" y2="565.70" stroke="#000" stroke-width="1.05"/>
<text x="289.49" y="580.90" font-size="14.3" text-anchor="middle" fill="#000" textLength="33.09" lengthAdjust="spacingAndGlyphs">4000</text>
<text x="199.50" y="598.10" font-size="14.3" text-anchor="middle" fill="#000" textLength="120.83" lengthAdjust="spacingAndGlyphs">MD strength [MPa]</text>
<text x="41.80" y="451.50" font-size="14.3" text-anchor="middle" fill="#000" textLength="161.27" lengthAdjust="spacingAndGlyphs" transform="rotate(-90 41.80 451.50)">predicted strength [MPa]</text>
<text x="294.70" y="529.80" font-size="14.3" text-anchor="end" fill="#000" textLength="53.70" lengthAdjust="spacingAndGlyphs">N = 163</text>
<text x="294.70" y="544.00" font-size="14.3" text-anchor="end" fill="#000" textLength="101.36" lengthAdjust="spacingAndGlyphs">RMSE = 302.22</text>
<circle cx="183" cy="538.6" r="3.4" fill="#1f77b4"/>
<text x="294.70" y="559.00" font-size="14.3" text-anchor="end" fill="#000" textLength="127.95" lengthAdjust="spacingAndGlyphs">Adjusted r² = 0.714</text>
<rect x="312.7" y="349.5" width="64.5" height="176.6" rx="2.6" fill="#fff" fill-opacity="0.8" stroke="#d4d4d4" stroke-width="1"/>
<circle cx="331.30" cy="361.20" r="5.20" fill="#1f77b4" stroke="#fff" stroke-width="0.8"/>
<text x="354.90" y="365.10" font-size="14.3" text-anchor="start" fill="#000" textLength="17.14" lengthAdjust="spacingAndGlyphs">Ag</text>
<polygon points="331.30,375.17 336.50,385.57 326.10,385.57" fill="#ff7f0e" stroke="#fff" stroke-width="0.8"/>
<text x="354.90" y="384.27" font-size="14.3" text-anchor="start" fill="#000" textLength="12.50" lengthAdjust="spacingAndGlyphs">Al</text>
<polygon points="331.30,404.74 336.50,394.34 326.10,394.34" fill="#2ca02c" stroke="#fff" stroke-width="0.8"/>
<text x="354.90" y="403.44" font-size="14.3" text-anchor="start" fill="#000" textLength="17.13" lengthAdjust="spacingAndGlyphs">Au</text>
<polygon points="326.10,418.71 336.50,413.51 336.50,423.91" fill="#d62728" stroke="#fff" stroke-width="0.8"/>
<text x="354.90" y="422.61" font-size="14.3" text-anchor="start" fill="#000" textLength="17.32" lengthAdjust="spacingAndGlyphs">Cu</text>
<polygon points="336.50,437.88 326.10,432.68 326.10,443.08" fill="#9467bd" stroke="#fff" stroke-width="0.8"/>
<text x="354.90" y="441.78" font-size="14.3" text-anchor="start" fill="#000" textLength="13.34" lengthAdjust="spacingAndGlyphs">Ni</text>
<polygon points="326.50,452.25 336.10,452.25 336.10,461.85 326.50,461.85" fill="#8c564b" stroke="#fff" stroke-width="0.8"/>
<text x="354.90" y="460.95" font-size="14.3" text-anchor="start" fill="#000" textLength="16.09" lengthAdjust="spacingAndGlyphs">Pb</text>
<polygon points="331.30,469.43 338.09,476.22 331.30,483.01 324.51,476.22" fill="#e377c2" stroke="#fff" stroke-width="0.8"/>
<text x="354.90" y="480.12" font-size="14.3" text-anchor="start" fill="#000" textLength="16.09" lengthAdjust="spacingAndGlyphs">Pd</text>
<polygon points="331.30,490.19 336.25,493.78 334.36,499.60 328.24,499.60 326.35,493.78" fill="#7f7f7f" stroke="#fff" stroke-width="0.8"/>
<text x="354.90" y="499.29" font-size="14.3" text-anchor="start" fill="#000" textLength="12.94" lengthAdjust="spacingAndGlyphs">Pt</text>
<polygon points="328.70,509.36 331.30,511.96 333.90,509.36 336.50,511.96 333.90,514.56 336.50,517.16 333.90,519.76 331.30,517.16 328.70,519.76 326.10,517.16 328.70,514.56 326.10,511.96" fill="#bcbd22" stroke="#fff" stroke-width="0.8"/>
<text x="354.90" y="518.46" font-size="14.3" text-anchor="start" fill="#000" textLength="17.27" lengthAdjust="spacingAndGlyphs">Rh</text>
</g>
<g id="panel-d">
<text x="401.70" y="344.20" font-size="14.56" text-anchor="start" fill="#000" textLength="21.20" lengthAdjust="spacingAndGlyphs">(d)</text>
<line x1="447.50" y1="360.50" x2="447.50" y2="505.50" stroke="#cdcdcd" stroke-width="1.0"/>
<line x1="454.27" y1="360.50" x2="454.27" y2="505.50" stroke="#cdcdcd" stroke-width="1.0"/>
<line x1="461.04" y1="360.50" x2="461.04" y2="505.50" stroke="#cdcdcd" stroke-width="1.0"/>
<line x1="467.81" y1="360.50" x2="467.81" y2="505.50" stroke="#cdcdcd" stroke-width="1.0"/>
<line x1="474.58" y1="360.50" x2="474.58" y2="505.50" stroke="#cdcdcd" stroke-width="1.0"/>
<line x1="481.36" y1="360.50" x2="481.36" y2="505.50" stroke="#cdcdcd" stroke-width="1.0"/>
<line x1="488.13" y1="360.50" x2="488.13" y2="505.50" stroke="#cdcdcd" stroke-width="1.0"/>
<line x1="494.90" y1="360.50" x2="494.90" y2="505.50" stroke="#cdcdcd" stroke-width="1.0"/>
<line x1="501.67" y1="360.50" x2="501.67" y2="505.50" stroke="#cdcdcd" stroke-width="1.0"/>
<line x1="508.44" y1="360.50" x2="508.44" y2="505.50" stroke="#cdcdcd" stroke-width="1.0"/>
<line x1="515.21" y1="360.50" x2="515.21" y2="505.50" stroke="#cdcdcd" stroke-width="1.0"/>
<line x1="521.98" y1="360.50" x2="521.98" y2="505.50" stroke="#cdcdcd" stroke-width="1.0"/>
<line x1="528.75" y1="360.50" x2="528.75" y2="505.50" stroke="#cdcdcd" stroke-width="1.0"/>
<line x1="535.52" y1="360.50" x2="535.52" y2="505.50" stroke="#cdcdcd" stroke-width="1.0"/>
<line x1="542.29" y1="360.50" x2="542.29" y2="505.50" stroke="#cdcdcd" stroke-width="1.0"/>
<line x1="549.07" y1="360.50" x2="549.07" y2="505.50" stroke="#cdcdcd" stroke-width="1.0"/>
<line x1="555.84" y1="360.50" x2="555.84" y2="505.50" stroke="#cdcdcd" stroke-width="1.0"/>
<line x1="562.61" y1="360.50" x2="562.61" y2="505.50" stroke="#cdcdcd" stroke-width="1.0"/>
<line x1="569.38" y1="360.50" x2="569.38" y2="505.50" stroke="#cdcdcd" stroke-width="1.0"/>
<line x1="576.15" y1="360.50" x2="576.15" y2="505.50" stroke="#cdcdcd" stroke-width="1.0"/>
<line x1="582.92" y1="360.50" x2="582.92" y2="505.50" stroke="#cdcdcd" stroke-width="1.0"/>
<line x1="589.69" y1="360.50" x2="589.69" y2="505.50" stroke="#cdcdcd" stroke-width="1.0"/>
<line x1="596.46" y1="360.50" x2="596.46" y2="505.50" stroke="#cdcdcd" stroke-width="1.0"/>
<line x1="603.23" y1="360.50" x2="603.23" y2="505.50" stroke="#cdcdcd" stroke-width="1.0"/>
<line x1="610.00" y1="360.50" x2="610.00" y2="505.50" stroke="#cdcdcd" stroke-width="1.0"/>
<line x1="616.77" y1="360.50" x2="616.77" y2="505.50" stroke="#cdcdcd" stroke-width="1.0"/>
<line x1="623.55" y1="360.50" x2="623.55" y2="505.50" stroke="#cdcdcd" stroke-width="1.0"/>
<line x1="630.32" y1="360.50" x2="630.32" y2="505.50" stroke="#cdcdcd" stroke-width="1.0"/>
<line x1="637.09" y1="360.50" x2="637.09" y2="505.50" stroke="#cdcdcd" stroke-width="1.0"/>
<line x1="643.86" y1="360.50" x2="643.86" y2="505.50" stroke="#cdcdcd" stroke-width="1.0"/>
<line x1="650.63" y1="360.50" x2="650.63" y2="505.50" stroke="#cdcdcd" stroke-width="1.0"/>
<line x1="657.40" y1="360.50" x2="657.40" y2="505.50" stroke="#cdcdcd" stroke-width="1.0"/>
<line x1="664.17" y1="360.50" x2="664.17" y2="505.50" stroke="#cdcdcd" stroke-width="1.0"/>
<line x1="670.94" y1="360.50" x2="670.94" y2="505.50" stroke="#cdcdcd" stroke-width="1.0"/>
<line x1="677.71" y1="360.50" x2="677.71" y2="505.50" stroke="#cdcdcd" stroke-width="1.0"/>
<line x1="440.50" y1="499.40" x2="684.50" y2="499.40" stroke="#cdcdcd" stroke-width="1.0"/>
<line x1="440.50" y1="472.80" x2="684.50" y2="472.80" stroke="#cdcdcd" stroke-width="1.0"/>
<line x1="440.50" y1="446.20" x2="684.50" y2="446.20" stroke="#cdcdcd" stroke-width="1.0"/>
<line x1="440.50" y1="419.60" x2="684.50" y2="419.60" stroke="#cdcdcd" stroke-width="1.0"/>
<line x1="440.50" y1="393.00" x2="684.50" y2="393.00" stroke="#cdcdcd" stroke-width="1.0"/>
<line x1="440.50" y1="366.40" x2="684.50" y2="366.40" stroke="#cdcdcd" stroke-width="1.0"/>
<line x1="444.70" y1="494.90" x2="450.30" y2="500.50" stroke="#0000ff" stroke-width="1.05"/>
<line x1="444.70" y1="500.50" x2="450.30" y2="494.90" stroke="#0000ff" stroke-width="1.05"/>
<line x1="451.47" y1="487.30" x2="457.07" y2="492.90" stroke="#0000ff" stroke-width="1.05"/>
<line x1="451.47" y1="492.90" x2="457.07" y2="487.30" stroke="#0000ff" stroke-width="1.05"/>
<line x1="458.24" y1="486.80" x2="463.84" y2="492.40" stroke="#0000ff" stroke-width="1.05"/>
<line x1="458.24" y1="492.40" x2="463.84" y2="486.80" stroke="#0000ff" stroke-width="1.05"/>
<line x1="465.01" y1="486.80" x2="470.61" y2="492.40" stroke="#0000ff" stroke-width="1.05"/>
<line x1="465.01" y1="492.40" x2="470.61" y2="486.80" stroke="#0000ff" stroke-width="1.05"/>
<line x1="471.78" y1="478.80" x2="477.38" y2="484.40" stroke="#0000ff" stroke-width="1.05"/>
<line x1="471.78" y1="484.40" x2="477.38" y2="478.80" stroke="#0000ff" stroke-width="1.05"/>
<line x1="478.56" y1="479.20" x2="484.16" y2="484.80" stroke="#0000ff" stroke-width="1.05"/>
<line x1="478.56" y1="484.80" x2="484.16" y2="479.20" stroke="#0000ff" stroke-width="1.05"/>
<line x1="485.33" y1="471.90" x2="490.93" y2="477.50" stroke="#0000ff" stroke-width="1.05"/>
<line x1="485.33" y1="477.50" x2="490.93" y2="471.90" stroke="#0000ff" stroke-width="1.05"/>
<line x1="492.10" y1="459.40" x2="497.70" y2="465.00" stroke="#0000ff" stroke-width="1.05"/>
<line x1="492.10" y1="465.00" x2="497.70" y2="459.40" stroke="#0000ff" stroke-width="1.05"/>
<line x1="498.87" y1="458.80" x2="504.47" y2="464.40" stroke="#0000ff" stroke-width="1.05"/>
<line x1="498.87" y1="464.40" x2="504.47" y2="458.80" stroke="#0000ff" stroke-width="1.05"/>
<line x1="505.64" y1="458.80" x2="511.24" y2="464.40" stroke="#0000ff" stroke-width="1.05"/>
<line x1="505.64" y1="464.40" x2="511.24" y2="458.80" stroke="#0000ff" stroke-width="1.05"/>
<line x1="512.41" y1="458.10" x2="518.01" y2="463.70" stroke="#0000ff" stroke-width="1.05"/>
<line x1="512.41" y1="463.70" x2="518.01" y2="458.10" stroke="#0000ff" stroke-width="1.05"/>
<line x1="519.18" y1="451.80" x2="524.78" y2="457.40" stroke="#0000ff" stroke-width="1.05"/>
<line x1="519.18" y1="457.40" x2="524.78" y2="451.80" stroke="#0000ff" stroke-width="1.05"/>
<line x1="525.95" y1="423.90" x2="531.55" y2="429.50" stroke="#0000ff" stroke-width="1.05"/>
<line x1="525.95" y1="429.50" x2="531.55" y2="423.90" stroke="#0000ff" stroke-width="1.05"/>
<line x1="532.72" y1="422.90" x2="538.32" y2="428.50" stroke="#0000ff" stroke-width="1.05"/>
<line x1="532.72" y1="428.50" x2="538.32" y2="422.90" stroke="#0000ff" stroke-width="1.05"/>
<line x1="539.49" y1="421.20" x2="545.09" y2="426.80" stroke="#0000ff" stroke-width="1.05"/>
<line x1="539.49" y1="426.80" x2="545.09" y2="421.20" stroke="#0000ff" stroke-width="1.05"/>
<line x1="546.27" y1="418.40" x2="551.87" y2="424.00" stroke="#0000ff" stroke-width="1.05"/>
<line x1="546.27" y1="424.00" x2="551.87" y2="418.40" stroke="#0000ff" stroke-width="1.05"/>
<line x1="553.04" y1="415.90" x2="558.64" y2="421.50" stroke="#0000ff" stroke-width="1.05"/>
<line x1="553.04" y1="421.50" x2="558.64" y2="415.90" stroke="#0000ff" stroke-width="1.05"/>
<line x1="559.81" y1="414.70" x2="565.41" y2="420.30" stroke="#0000ff" stroke-width="1.05"/>
<line x1="559.81" y1="420.30" x2="565.41" y2="414.70" stroke="#0000ff" stroke-width="1.05"/>
<line x1="566.58" y1="414.50" x2="572.18" y2="420.10" stroke="#0000ff" stroke-width="1.05"/>
<line x1="566.58" y1="420.10" x2="572.18" y2="414.50" stroke="#0000ff" stroke-width="1.05"/>
<line x1="573.35" y1="414.50" x2="578.95" y2="420.10" stroke="#0000ff" stroke-width="1.05"/>
<line x1="573.35" y1="420.10" x2="578.95" y2="414.50" stroke="#0000ff" stroke-width="1.05"/>
<line x1="580.12" y1="409.50" x2="585.72" y2="415.10" stroke="#0000ff" stroke-width="1.05"/>
<line x1="580.12" y1="415.10" x2="585.72" y2="409.50" stroke="#0000ff" stroke-width="1.05"/>
<line x1="586.89" y1="409.50" x2="592.49" y2="415.10" stroke="#0000ff" stroke-width="1.05"/>
<line x1="586.89" y1="415.10" x2="592.49" y2="409.50" stroke="#0000ff" stroke-width="1.05"/>
<line x1="593.66" y1="407.80" x2="599.26" y2="413.40" stroke="#0000ff" stroke-width="1.05"/>
<line x1="593.66" y1="413.40" x2="599.26" y2="407.80" stroke="#0000ff" stroke-width="1.05"/>
<line x1="600.43" y1="405.10" x2="606.03" y2="410.70" stroke="#0000ff" stroke-width="1.05"/>
<line x1="600.43" y1="410.70" x2="606.03" y2="405.10" stroke="#0000ff" stroke-width="1.05"/>
<line x1="607.20" y1="405.10" x2="612.80" y2="410.70" stroke="#0000ff" stroke-width="1.05"/>
<line x1="607.20" y1="410.70" x2="612.80" y2="405.10" stroke="#0000ff" stroke-width="1.05"/>
<line x1="613.98" y1="405.10" x2="619.57" y2="410.70" stroke="#0000ff" stroke-width="1.05"/>
<line x1="613.98" y1="410.70" x2="619.57" y2="405.10" stroke="#0000ff" stroke-width="1.05"/>
<line x1="620.75" y1="405.10" x2="626.35" y2="410.70" stroke="#0000ff" stroke-width="1.05"/>
<line x1="620.75" y1="410.70" x2="626.35" y2="405.10" stroke="#0000ff" stroke-width="1.05"/>
<line x1="627.52" y1="405.00" x2="633.12" y2="410.60" stroke="#0000ff" stroke-width="1.05"/>
<line x1="627.52" y1="410.60" x2="633.12" y2="405.00" stroke="#0000ff" stroke-width="1.05"/>
<line x1="634.29" y1="403.60" x2="639.89" y2="409.20" stroke="#0000ff" stroke-width="1.05"/>
<line x1="634.29" y1="409.20" x2="639.89" y2="403.60" stroke="#0000ff" stroke-width="1.05"/>
<line x1="641.06" y1="403.10" x2="646.66" y2="408.70" stroke="#0000ff" stroke-width="1.05"/>
<line x1="641.06" y1="408.70" x2="646.66" y2="403.10" stroke="#0000ff" stroke-width="1.05"/>
<line x1="647.83" y1="372.70" x2="653.43" y2="378.30" stroke="#0000ff" stroke-width="1.05"/>
<line x1="647.83" y1="378.30" x2="653.43" y2="372.70" stroke="#0000ff" stroke-width="1.05"/>
<line x1="654.60" y1="373.10" x2="660.20" y2="378.70" stroke="#0000ff" stroke-width="1.05"/>
<line x1="654.60" y1="378.70" x2="660.20" y2="373.10" stroke="#0000ff" stroke-width="1.05"/>
<line x1="661.37" y1="371.00" x2="666.97" y2="376.60" stroke="#0000ff" stroke-width="1.05"/>
<line x1="661.37" y1="376.60" x2="666.97" y2="371.00" stroke="#0000ff" stroke-width="1.05"/>
<line x1="668.14" y1="366.60" x2="673.74" y2="372.20" stroke="#0000ff" stroke-width="1.05"/>
<line x1="668.14" y1="372.20" x2="673.74" y2="366.60" stroke="#0000ff" stroke-width="1.05"/>
<line x1="674.91" y1="364.30" x2="680.51" y2="369.90" stroke="#0000ff" stroke-width="1.05"/>
<line x1="674.91" y1="369.90" x2="680.51" y2="364.30" stroke="#0000ff" stroke-width="1.05"/>
<circle cx="447.50" cy="499.10" r="1.9" fill="#ff0000"/>
<circle cx="454.27" cy="492.30" r="1.9" fill="#ff0000"/>
<circle cx="461.04" cy="493.30" r="1.9" fill="#ff0000"/>
<circle cx="467.81" cy="494.30" r="1.9" fill="#ff0000"/>
<circle cx="474.58" cy="487.20" r="1.9" fill="#ff0000"/>
<circle cx="481.36" cy="488.20" r="1.9" fill="#ff0000"/>
<circle cx="488.13" cy="482.30" r="1.9" fill="#ff0000"/>
<circle cx="494.90" cy="470.20" r="1.9" fill="#ff0000"/>
<circle cx="501.67" cy="470.40" r="1.9" fill="#ff0000"/>
<circle cx="508.44" cy="471.10" r="1.9" fill="#ff0000"/>
<circle cx="515.21" cy="471.10" r="1.9" fill="#ff0000"/>
<circle cx="521.98" cy="466.30" r="1.9" fill="#ff0000"/>
<circle cx="528.75" cy="436.70" r="1.9" fill="#ff0000"/>
<circle cx="535.52" cy="436.30" r="1.9" fill="#ff0000"/>
<circle cx="542.29" cy="435.30" r="1.9" fill="#ff0000"/>
<circle cx="549.07" cy="432.80" r="1.9" fill="#ff0000"/>
<circle cx="555.84" cy="430.80" r="1.9" fill="#ff0000"/>
<circle cx="562.61" cy="430.40" r="1.9" fill="#ff0000"/>
<circle cx="569.38" cy="431.10" r="1.9" fill="#ff0000"/>
<circle cx="576.15" cy="432.30" r="1.9" fill="#ff0000"/>
<circle cx="582.92" cy="427.20" r="1.9" fill="#ff0000"/>
<circle cx="589.69" cy="428.10" r="1.9" fill="#ff0000"/>
<circle cx="596.46" cy="426.60" r="1.9" fill="#ff0000"/>
<circle cx="603.23" cy="424.70" r="1.9" fill="#ff0000"/>
<circle cx="610.00" cy="425.40" r="1.9" fill="#ff0000"/>
<circle cx="616.77" cy="425.40" r="1.9" fill="#ff0000"/>
<circle cx="623.55" cy="426.20" r="1.9" fill="#ff0000"/>
<circle cx="630.32" cy="427.10" r="1.9" fill="#ff0000"/>
<circle cx="637.09" cy="426.40" r="1.9" fill="#ff0000"/>
<circle cx="643.86" cy="426.70" r="1.9" fill="#ff0000"/>
<circle cx="650.63" cy="390.10" r="1.9" fill="#ff0000"/>
<circle cx="657.40" cy="391.00" r="1.9" fill="#ff0000"/>
<circle cx="664.17" cy="389.20" r="1.9" fill="#ff0000"/>
<circle cx="670.94" cy="384.30" r="1.9" fill="#ff0000"/>
<circle cx="677.71" cy="381.70" r="1.9" fill="#ff0000"/>
<rect x="440.5" y="360.5" width="244.0" height="145.0" fill="none" stroke="#000" stroke-width="1.1"/>
<line x1="437.20" y1="499.40" x2="440.50" y2="499.40" stroke="#000" stroke-width="1.0"/>
<text x="434.30" y="502.60" font-size="9.57" text-anchor="end" fill="#000" textLength="19.37" lengthAdjust="spacingAndGlyphs">0.65</text>
<line x1="437.20" y1="472.80" x2="440.50" y2="472.80" stroke="#000" stroke-width="1.0"/>
<text x="434.30" y="476.00" font-size="9.57" text-anchor="end" fill="#000" textLength="19.37" lengthAdjust="spacingAndGlyphs">0.70</text>
<line x1="437.20" y1="446.20" x2="440.50" y2="446.20" stroke="#000" stroke-width="1.0"/>
<text x="434.30" y="449.40" font-size="9.57" text-anchor="end" fill="#000" textLength="19.37" lengthAdjust="spacingAndGlyphs">0.75</text>
<line x1="437.20" y1="419.60" x2="440.50" y2="419.60" stroke="#000" stroke-width="1.0"/>
<text x="434.30" y="422.80" font-size="9.57" text-anchor="end" fill="#000" textLength="19.37" lengthAdjust="spacingAndGlyphs">0.80</text>
<line x1="437.20" y1="393.00" x2="440.50" y2="393.00" stroke="#000" stroke-width="1.0"/>
<text x="434.30" y="396.20" font-size="9.57" text-anchor="end" fill="#000" textLength="19.37" lengthAdjust="spacingAndGlyphs">0.85</text>
<line x1="437.20" y1="366.40" x2="440.50" y2="366.40" stroke="#000" stroke-width="1.0"/>
<text x="434.30" y="369.60" font-size="9.57" text-anchor="end" fill="#000" textLength="19.37" lengthAdjust="spacingAndGlyphs">0.90</text>
<line x1="447.50" y1="505.50" x2="447.50" y2="508.70" stroke="#000" stroke-width="1.0"/>
<text x="450.00" y="512.30" font-size="7.54" text-anchor="end" fill="#000" textLength="29.18" lengthAdjust="spacingAndGlyphs" transform="rotate(-90 450.00 512.30)">C44 FCC</text>
<line x1="454.27" y1="505.50" x2="454.27" y2="508.70" stroke="#000" stroke-width="1.0"/>
<text x="456.77" y="512.30" font-size="7.54" text-anchor="end" fill="#000" textLength="24.92" lengthAdjust="spacingAndGlyphs" transform="rotate(-90 456.77 512.30)">LC BCC</text>
<line x1="461.04" y1="505.50" x2="461.04" y2="508.70" stroke="#000" stroke-width="1.0"/>
<text x="463.54" y="512.30" font-size="7.54" text-anchor="end" fill="#000" textLength="24.28" lengthAdjust="spacingAndGlyphs" transform="rotate(-90 463.54 512.30)">LC FCC</text>
<line x1="467.81" y1="505.50" x2="467.81" y2="508.70" stroke="#000" stroke-width="1.0"/>
<text x="470.31" y="512.30" font-size="7.54" text-anchor="end" fill="#000" textLength="29.18" lengthAdjust="spacingAndGlyphs" transform="rotate(-90 470.31 512.30)">C11 FCC</text>
<line x1="474.58" y1="505.50" x2="474.58" y2="508.70" stroke="#000" stroke-width="1.0"/>
<text x="477.08" y="512.30" font-size="7.54" text-anchor="end" fill="#000" textLength="39.61" lengthAdjust="spacingAndGlyphs" transform="rotate(-90 477.08 512.30)">SE 110 FCC</text>
<line x1="481.36" y1="505.50" x2="481.36" y2="508.70" stroke="#000" stroke-width="1.0"/>
<text x="483.86" y="512.30" font-size="7.54" text-anchor="end" fill="#000" textLength="39.61" lengthAdjust="spacingAndGlyphs" transform="rotate(-90 483.86 512.30)">SE 100 FCC</text>
<line x1="488.13" y1="505.50" x2="488.13" y2="508.70" stroke="#000" stroke-width="1.0"/>
<text x="490.63" y="512.30" font-size="7.54" text-anchor="end" fill="#000" textLength="39.61" lengthAdjust="spacingAndGlyphs" transform="rotate(-90 490.63 512.30)">SE 121 FCC</text>
<line x1="494.90" y1="505.50" x2="494.90" y2="508.70" stroke="#000" stroke-width="1.0"/>
<text x="497.40" y="512.30" font-size="7.54" text-anchor="end" fill="#000" textLength="19.91" lengthAdjust="spacingAndGlyphs" transform="rotate(-90 497.40 512.30)">LC SC</text>
<line x1="501.67" y1="505.50" x2="501.67" y2="508.70" stroke="#000" stroke-width="1.0"/>
<text x="504.17" y="512.30" font-size="7.54" text-anchor="end" fill="#000" textLength="58.47" lengthAdjust="spacingAndGlyphs" transform="rotate(-90 504.17 512.30)">Ideal SE 100 FCC</text>
<line x1="508.44" y1="505.50" x2="508.44" y2="508.70" stroke="#000" stroke-width="1.0"/>
<text x="510.94" y="512.30" font-size="7.54" text-anchor="end" fill="#000" textLength="58.47" lengthAdjust="spacingAndGlyphs" transform="rotate(-90 510.94 512.30)">Ideal SE 110 FCC</text>
<line x1="515.21" y1="505.50" x2="515.21" y2="508.70" stroke="#000" stroke-width="1.0"/>
<text x="517.71" y="512.30" font-size="7.54" text-anchor="end" fill="#000" textLength="58.47" lengthAdjust="spacingAndGlyphs" transform="rotate(-90 517.71 512.30)">Ideal SE 121 FCC</text>
<line x1="521.98" y1="505.50" x2="521.98" y2="508.70" stroke="#000" stroke-width="1.0"/>
<text x="524.48" y="512.30" font-size="7.54" text-anchor="end" fill="#000" textLength="24.81" lengthAdjust="spacingAndGlyphs" transform="rotate(-90 524.48 512.30)">C11 SC</text>
<line x1="528.75" y1="505.50" x2="528.75" y2="508.70" stroke="#000" stroke-width="1.0"/>
<text x="531.25" y="512.30" font-size="7.54" text-anchor="end" fill="#000" textLength="58.91" lengthAdjust="spacingAndGlyphs" transform="rotate(-90 531.25 512.30)">uTwinEnergy FCC</text>
<line x1="535.52" y1="505.50" x2="535.52" y2="508.70" stroke="#000" stroke-width="1.0"/>
<text x="538.02" y="512.30" font-size="7.54" text-anchor="end" fill="#000" textLength="57.34" lengthAdjust="spacingAndGlyphs" transform="rotate(-90 538.02 512.30)">Coh. Energy FCC</text>
<line x1="542.29" y1="505.50" x2="542.29" y2="508.70" stroke="#000" stroke-width="1.0"/>
<text x="544.79" y="512.30" font-size="7.54" text-anchor="end" fill="#000" textLength="39.61" lengthAdjust="spacingAndGlyphs" transform="rotate(-90 544.79 512.30)">SE 111 FCC</text>
<line x1="549.07" y1="505.50" x2="549.07" y2="508.70" stroke="#000" stroke-width="1.0"/>
<text x="551.57" y="512.30" font-size="7.54" text-anchor="end" fill="#000" textLength="57.98" lengthAdjust="spacingAndGlyphs" transform="rotate(-90 551.57 512.30)">Coh. Energy BCC</text>
<line x1="555.84" y1="505.50" x2="555.84" y2="508.70" stroke="#000" stroke-width="1.0"/>
<text x="558.34" y="512.30" font-size="7.54" text-anchor="end" fill="#000" textLength="58.47" lengthAdjust="spacingAndGlyphs" transform="rotate(-90 558.34 512.30)">Ideal SE 111 FCC</text>
<line x1="562.61" y1="505.50" x2="562.61" y2="508.70" stroke="#000" stroke-width="1.0"/>
<text x="565.11" y="512.30" font-size="7.54" text-anchor="end" fill="#000" textLength="32.64" lengthAdjust="spacingAndGlyphs" transform="rotate(-90 565.11 512.30)">uSFE FCC</text>
<line x1="569.38" y1="505.50" x2="569.38" y2="508.70" stroke="#000" stroke-width="1.0"/>
<text x="571.88" y="512.30" font-size="7.54" text-anchor="end" fill="#000" textLength="61.38" lengthAdjust="spacingAndGlyphs" transform="rotate(-90 571.88 512.30)">Bulk Modulus FCC</text>
<line x1="576.15" y1="505.50" x2="576.15" y2="508.70" stroke="#000" stroke-width="1.0"/>
<text x="578.65" y="512.30" font-size="7.54" text-anchor="end" fill="#000" textLength="41.71" lengthAdjust="spacingAndGlyphs" transform="rotate(-90 578.65 512.30)">LC Diamond</text>
<line x1="582.92" y1="505.50" x2="582.92" y2="508.70" stroke="#000" stroke-width="1.0"/>
<text x="585.42" y="512.30" font-size="7.54" text-anchor="end" fill="#000" textLength="52.96" lengthAdjust="spacingAndGlyphs" transform="rotate(-90 585.42 512.30)">Coh. Energy SC</text>
<line x1="589.69" y1="505.50" x2="589.69" y2="508.70" stroke="#000" stroke-width="1.0"/>
<text x="592.19" y="512.30" font-size="7.54" text-anchor="end" fill="#000" textLength="29.18" lengthAdjust="spacingAndGlyphs" transform="rotate(-90 592.19 512.30)">C12 FCC</text>
<line x1="596.46" y1="505.50" x2="596.46" y2="508.70" stroke="#000" stroke-width="1.0"/>
<text x="598.96" y="512.30" font-size="7.54" text-anchor="end" fill="#000" textLength="29.82" lengthAdjust="spacingAndGlyphs" transform="rotate(-90 598.96 512.30)">C44 BCC</text>
<line x1="603.23" y1="505.50" x2="603.23" y2="508.70" stroke="#000" stroke-width="1.0"/>
<text x="605.73" y="512.30" font-size="7.54" text-anchor="end" fill="#000" textLength="57.00" lengthAdjust="spacingAndGlyphs" transform="rotate(-90 605.73 512.30)">Bulk Modulus SC</text>
<line x1="610.00" y1="505.50" x2="610.00" y2="508.70" stroke="#000" stroke-width="1.0"/>
<text x="612.50" y="512.30" font-size="7.54" text-anchor="end" fill="#000" textLength="28.98" lengthAdjust="spacingAndGlyphs" transform="rotate(-90 612.50 512.30)">TEC FCC</text>
<line x1="616.77" y1="505.50" x2="616.77" y2="508.70" stroke="#000" stroke-width="1.0"/>
<text x="619.27" y="512.30" font-size="7.54" text-anchor="end" fill="#000" textLength="74.76" lengthAdjust="spacingAndGlyphs" transform="rotate(-90 619.27 512.30)">Coh. Energy Diamond</text>
<line x1="623.55" y1="505.50" x2="623.55" y2="508.70" stroke="#000" stroke-width="1.0"/>
<text x="626.05" y="512.30" font-size="7.54" text-anchor="end" fill="#000" textLength="24.81" lengthAdjust="spacingAndGlyphs" transform="rotate(-90 626.05 512.30)">C44 SC</text>
<line x1="630.32" y1="505.50" x2="630.32" y2="508.70" stroke="#000" stroke-width="1.0"/>
<text x="632.82" y="512.30" font-size="7.54" text-anchor="end" fill="#000" textLength="24.81" lengthAdjust="spacingAndGlyphs" transform="rotate(-90 632.82 512.30)">C12 SC</text>
<line x1="637.09" y1="505.50" x2="637.09" y2="508.70" stroke="#000" stroke-width="1.0"/>
<text x="639.59" y="512.30" font-size="7.54" text-anchor="end" fill="#000" textLength="66.41" lengthAdjust="spacingAndGlyphs" transform="rotate(-90 639.59 512.30)">uSFE Slip Fract FCC</text>
<line x1="643.86" y1="505.50" x2="643.86" y2="508.70" stroke="#000" stroke-width="1.0"/>
<text x="646.36" y="512.30" font-size="7.54" text-anchor="end" fill="#000" textLength="67.19" lengthAdjust="spacingAndGlyphs" transform="rotate(-90 646.36 512.30)">uTwinEnergySF FCC</text>
<line x1="650.63" y1="505.50" x2="650.63" y2="508.70" stroke="#000" stroke-width="1.0"/>
<text x="653.13" y="512.30" font-size="7.54" text-anchor="end" fill="#000" textLength="30.20" lengthAdjust="spacingAndGlyphs" transform="rotate(-90 653.13 512.30)">iSFE FCC</text>
<line x1="657.40" y1="505.50" x2="657.40" y2="508.70" stroke="#000" stroke-width="1.0"/>
<text x="659.90" y="512.30" font-size="7.54" text-anchor="end" fill="#000" textLength="32.52" lengthAdjust="spacingAndGlyphs" transform="rotate(-90 659.90 512.30)">eSFE FCC</text>
<line x1="664.17" y1="505.50" x2="664.17" y2="508.70" stroke="#000" stroke-width="1.0"/>
<text x="666.67" y="512.30" font-size="7.54" text-anchor="end" fill="#000" textLength="29.82" lengthAdjust="spacingAndGlyphs" transform="rotate(-90 666.67 512.30)">C12 BCC</text>
<line x1="670.94" y1="505.50" x2="670.94" y2="508.70" stroke="#000" stroke-width="1.0"/>
<text x="673.44" y="512.30" font-size="7.54" text-anchor="end" fill="#000" textLength="62.02" lengthAdjust="spacingAndGlyphs" transform="rotate(-90 673.44 512.30)">Bulk Modulus BCC</text>
<line x1="677.71" y1="505.50" x2="677.71" y2="508.70" stroke="#000" stroke-width="1.0"/>
<text x="680.21" y="512.30" font-size="7.54" text-anchor="end" fill="#000" textLength="29.82" lengthAdjust="spacingAndGlyphs" transform="rotate(-90 680.21 512.30)">C11 BCC</text>
<line x1="447.50" y1="357.20" x2="447.50" y2="360.50" stroke="#000" stroke-width="1.0"/>
<text x="447.50" y="352.60" font-size="9.57" text-anchor="middle" fill="#000" textLength="5.54" lengthAdjust="spacingAndGlyphs">1</text>
<line x1="474.58" y1="357.20" x2="474.58" y2="360.50" stroke="#000" stroke-width="1.0"/>
<text x="474.58" y="352.60" font-size="9.57" text-anchor="middle" fill="#000" textLength="5.54" lengthAdjust="spacingAndGlyphs">5</text>
<line x1="508.44" y1="357.20" x2="508.44" y2="360.50" stroke="#000" stroke-width="1.0"/>
<text x="508.44" y="352.60" font-size="9.57" text-anchor="middle" fill="#000" textLength="11.07" lengthAdjust="spacingAndGlyphs">10</text>
<line x1="542.29" y1="357.20" x2="542.29" y2="360.50" stroke="#000" stroke-width="1.0"/>
<text x="542.29" y="352.60" font-size="9.57" text-anchor="middle" fill="#000" textLength="11.07" lengthAdjust="spacingAndGlyphs">15</text>
<line x1="576.15" y1="357.20" x2="576.15" y2="360.50" stroke="#000" stroke-width="1.0"/>
<text x="576.15" y="352.60" font-size="9.57" text-anchor="middle" fill="#000" textLength="11.07" lengthAdjust="spacingAndGlyphs">20</text>
<line x1="610.00" y1="357.20" x2="610.00" y2="360.50" stroke="#000" stroke-width="1.0"/>
<text x="610.00" y="352.60" font-size="9.57" text-anchor="middle" fill="#000" textLength="11.07" lengthAdjust="spacingAndGlyphs">25</text>
<line x1="643.86" y1="357.20" x2="643.86" y2="360.50" stroke="#000" stroke-width="1.0"/>
<text x="643.86" y="352.60" font-size="9.57" text-anchor="middle" fill="#000" textLength="11.07" lengthAdjust="spacingAndGlyphs">30</text>
<line x1="677.71" y1="357.20" x2="677.71" y2="360.50" stroke="#000" stroke-width="1.0"/>
<text x="677.71" y="352.60" font-size="9.57" text-anchor="middle" fill="#000" textLength="11.07" lengthAdjust="spacingAndGlyphs">35</text>
<text x="562.40" y="343.00" font-size="9.57" text-anchor="middle" fill="#000" textLength="131.51" lengthAdjust="spacingAndGlyphs">Number of indicators included</text>
<text x="510.10" y="597.70" font-size="9.57" text-anchor="start" fill="#000" textLength="123.34" lengthAdjust="spacingAndGlyphs">Indicators included in model</text>
<line x1="494.60" y1="595.40" x2="504.80" y2="595.40" stroke="#000" stroke-width="1.1"/>
<polygon points="492.8,595.4 495.6,593.3 495.0,595.4 495.6,597.5" fill="#000"/>
<text x="404.00" y="436.40" font-size="9.57" text-anchor="start" fill="#000">r</text>
<text x="407.00" y="432.70" font-size="6.71" text-anchor="start" fill="#000">2</text>
<rect x="444.7" y="364.6" width="81.4" height="31.5" rx="2" fill="#fff" fill-opacity="0.8" stroke="#d4d4d4" stroke-width="1"/>
<line x1="454.10" y1="369.20" x2="460.10" y2="375.20" stroke="#0000ff" stroke-width="1.1"/>
<line x1="454.10" y1="375.20" x2="460.10" y2="369.20" stroke="#0000ff" stroke-width="1.1"/>
<circle cx="457.1" cy="386.9" r="2.1" fill="#ff0000"/>
<text x="469.80" y="375.20" font-size="9.57" text-anchor="start" fill="#000">r</text>
<text x="476.30" y="371.00" font-size="6.71" text-anchor="start" fill="#000">2</text>
<text x="468.60" y="389.40" font-size="9.57" text-anchor="start" fill="#000" textLength="37.60" lengthAdjust="spacingAndGlyphs">adjusted</text>
<text x="511.60" y="389.40" font-size="9.57" text-anchor="start" fill="#000">r</text>
<text x="517.60" y="385.20" font-size="6.71" text-anchor="start" fill="#000">2</text>
</g>
</svg>
</body></html>
